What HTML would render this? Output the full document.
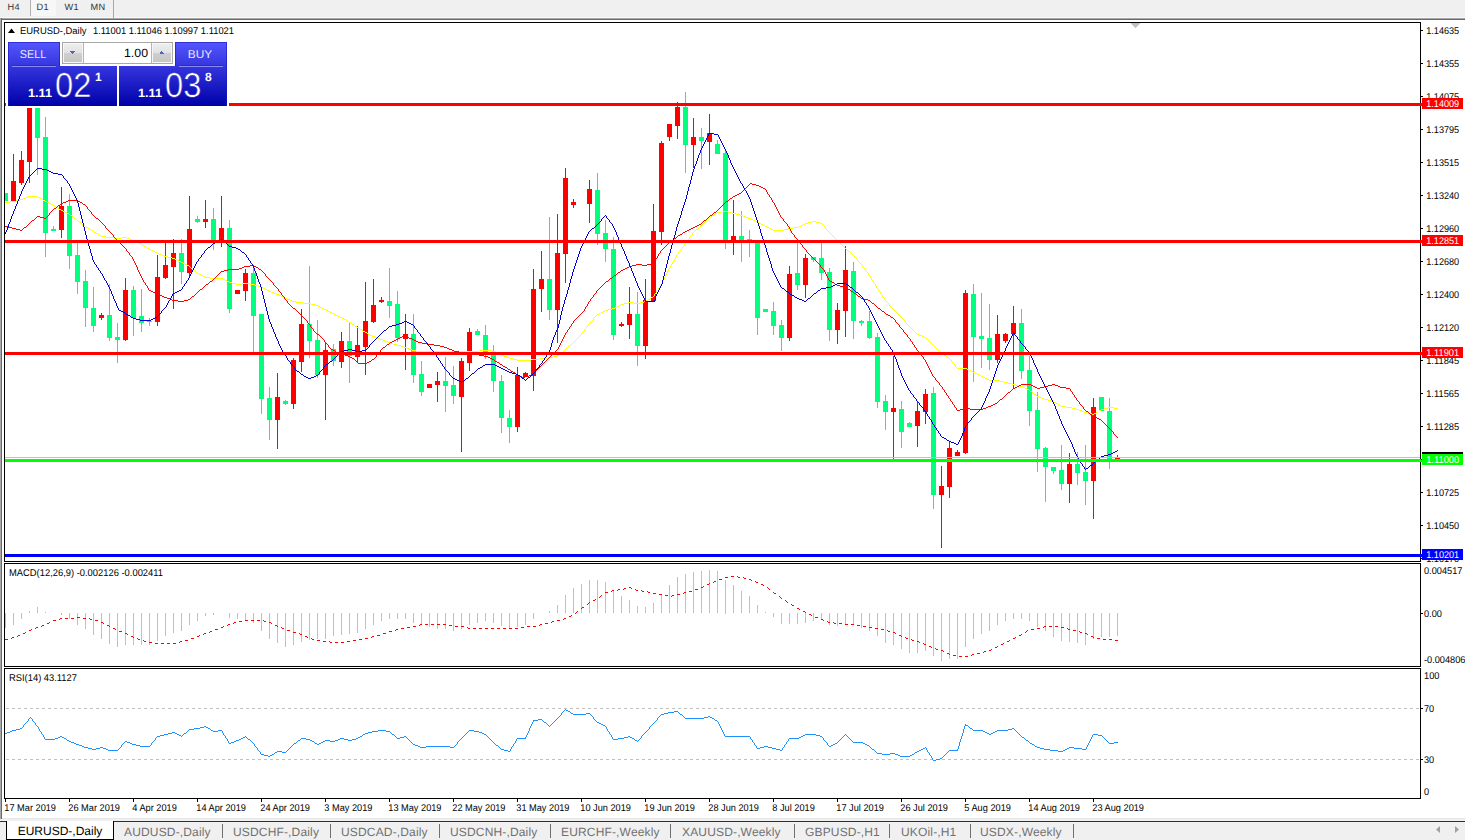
<!DOCTYPE html>
<html lang="en"><head><meta charset="utf-8"><title>EURUSD-,Daily</title>
<style>
html,body{margin:0;padding:0;background:#fff}
body{text-rendering:geometricPrecision;width:1465px;height:840px;overflow:hidden;position:relative;font-family:"Liberation Sans",sans-serif;color:#000}
#chart{position:absolute;left:0;top:0}
#chart text{font-family:"Liberation Sans",sans-serif;font-size:9.8px;fill:#000;text-rendering:geometricPrecision}
#topbar{position:absolute;left:0;top:0;width:1465px;height:17px;background:#f0f0f0;box-shadow:0 1px 0 #f8f8f8,0 2px 0 #a8a8a8,0 3px 0 #6a6a6a;font-size:9.2px;letter-spacing:.25px;color:#333;text-rendering:geometricPrecision}
#topbar span{position:absolute;top:0;height:17px;line-height:11px}
#topbar .sel{left:30px;width:25px;height:16px;background:#f7f7f7;border-left:1px solid #b0b0b0}
#topbar .sep{left:113px;width:1px;height:18px;background:#a8a8a8}
#leftedge{position:absolute;left:0;top:18px;width:1px;height:801px;background:#a8a8a8;border-right:1px solid #6a6a6a}
#leftedge+i{position:absolute;left:2px;top:818px;width:1463px;height:1px;background:#e6e6e6}
#tabs{position:absolute;left:0;top:819px;width:1465px;height:21px;background:#f0f0f0;font-size:12px;letter-spacing:.16px;color:#707070}
#tabs u{position:absolute;left:0;top:2px;width:1465px;height:1px;background:#303030}
#tabs span{position:absolute;top:3.6px;line-height:19px;white-space:nowrap}
#tabs .act{left:6px;top:2px;width:106px;height:18px;background:#fff;border:1px solid #000;border-top:none;color:#000;text-align:center;line-height:21.6px;letter-spacing:0}
#tabs i{position:absolute;top:5px;width:1px;height:14px;background:#707070}
</style></head><body>

<svg id="chart" width="1465" height="840" viewBox="0 0 1465 840">
<g shape-rendering="crispEdges">
<rect x="4" y="22" width="1417" height="1" fill="#000"/>
<rect x="4" y="561" width="1417" height="1" fill="#000"/>
<rect x="4" y="22" width="1" height="540" fill="#000"/>
<rect x="1420" y="22" width="1" height="540" fill="#000"/>
<rect x="4" y="563" width="1417" height="1" fill="#000"/>
<rect x="4" y="666" width="1417" height="1" fill="#000"/>
<rect x="4" y="563" width="1" height="104" fill="#000"/>
<rect x="1420" y="563" width="1" height="104" fill="#000"/>
<rect x="4" y="668" width="1417" height="1" fill="#000"/>
<rect x="4" y="798" width="1417" height="1" fill="#000"/>
<rect x="4" y="668" width="1" height="131" fill="#000"/>
<rect x="1420" y="668" width="1" height="131" fill="#000"/>
<g id="candles">
<rect x="5" y="193" width="1" height="8" fill="#00ff7f"/>
<rect x="5" y="193" width="3" height="8" fill="#00ff7f"/>
<rect x="13" y="154" width="1" height="47" fill="#ff0000"/>
<rect x="11" y="181" width="5" height="20" fill="#ff0000"/>
<rect x="21" y="151" width="1" height="34" fill="#ff0000"/>
<rect x="19" y="160" width="5" height="23" fill="#ff0000"/>
<rect x="29" y="100" width="1" height="83" fill="#ff0000"/>
<rect x="27" y="100" width="5" height="62" fill="#ff0000"/>
<rect x="37" y="100" width="1" height="75" fill="#00ff7f"/>
<rect x="35" y="100" width="5" height="38" fill="#00ff7f"/>
<rect x="45" y="117" width="1" height="140" fill="#00ff7f"/>
<rect x="43" y="137" width="5" height="96" fill="#00ff7f"/>
<rect x="53" y="226" width="1" height="5" fill="#00ff7f"/>
<rect x="51" y="229" width="5" height="2" fill="#00ff7f"/>
<rect x="61" y="187" width="1" height="51" fill="#ff0000"/>
<rect x="59" y="206" width="5" height="24" fill="#ff0000"/>
<rect x="69" y="194" width="1" height="75" fill="#00ff7f"/>
<rect x="67" y="206" width="5" height="50" fill="#00ff7f"/>
<rect x="77" y="243" width="1" height="51" fill="#00ff7f"/>
<rect x="75" y="255" width="5" height="27" fill="#00ff7f"/>
<rect x="85" y="270" width="1" height="57" fill="#00ff7f"/>
<rect x="83" y="281" width="5" height="27" fill="#00ff7f"/>
<rect x="93" y="287" width="1" height="45" fill="#00ff7f"/>
<rect x="91" y="308" width="5" height="18" fill="#00ff7f"/>
<rect x="101" y="313" width="1" height="7" fill="#ff0000"/>
<rect x="99" y="315" width="5" height="3" fill="#ff0000"/>
<rect x="109" y="284" width="1" height="57" fill="#00ff7f"/>
<rect x="107" y="315" width="5" height="23" fill="#00ff7f"/>
<rect x="117" y="323" width="1" height="40" fill="#00ff7f"/>
<rect x="115" y="337" width="5" height="3" fill="#00ff7f"/>
<rect x="125" y="278" width="1" height="63" fill="#ff0000"/>
<rect x="123" y="290" width="5" height="50" fill="#ff0000"/>
<rect x="133" y="286" width="1" height="50" fill="#00ff7f"/>
<rect x="131" y="290" width="5" height="28" fill="#00ff7f"/>
<rect x="141" y="289" width="1" height="43" fill="#00ff7f"/>
<rect x="139" y="316" width="5" height="7" fill="#00ff7f"/>
<rect x="149" y="318" width="1" height="8" fill="#00ff7f"/>
<rect x="147" y="321" width="5" height="1" fill="#00ff7f"/>
<rect x="157" y="255" width="1" height="71" fill="#ff0000"/>
<rect x="155" y="277" width="5" height="45" fill="#ff0000"/>
<rect x="165" y="242" width="1" height="37" fill="#ff0000"/>
<rect x="163" y="265" width="5" height="13" fill="#ff0000"/>
<rect x="173" y="239" width="1" height="70" fill="#ff0000"/>
<rect x="171" y="253" width="5" height="14" fill="#ff0000"/>
<rect x="181" y="239" width="1" height="45" fill="#00ff7f"/>
<rect x="179" y="253" width="5" height="19" fill="#00ff7f"/>
<rect x="189" y="196" width="1" height="80" fill="#ff0000"/>
<rect x="187" y="229" width="5" height="44" fill="#ff0000"/>
<rect x="197" y="216" width="1" height="7" fill="#00ff7f"/>
<rect x="195" y="219" width="5" height="3" fill="#00ff7f"/>
<rect x="205" y="200" width="1" height="28" fill="#ff0000"/>
<rect x="203" y="219" width="5" height="3" fill="#ff0000"/>
<rect x="213" y="208" width="1" height="42" fill="#00ff7f"/>
<rect x="211" y="219" width="5" height="22" fill="#00ff7f"/>
<rect x="221" y="196" width="1" height="51" fill="#ff0000"/>
<rect x="219" y="228" width="5" height="13" fill="#ff0000"/>
<rect x="229" y="220" width="1" height="93" fill="#00ff7f"/>
<rect x="227" y="228" width="5" height="81" fill="#00ff7f"/>
<rect x="237" y="290" width="1" height="4" fill="#ff0000"/>
<rect x="235" y="290" width="5" height="4" fill="#ff0000"/>
<rect x="245" y="269" width="1" height="32" fill="#ff0000"/>
<rect x="243" y="273" width="5" height="18" fill="#ff0000"/>
<rect x="253" y="266" width="1" height="86" fill="#00ff7f"/>
<rect x="251" y="273" width="5" height="43" fill="#00ff7f"/>
<rect x="261" y="314" width="1" height="100" fill="#00ff7f"/>
<rect x="259" y="314" width="5" height="85" fill="#00ff7f"/>
<rect x="269" y="387" width="1" height="53" fill="#00ff7f"/>
<rect x="267" y="398" width="5" height="22" fill="#00ff7f"/>
<rect x="277" y="373" width="1" height="76" fill="#ff0000"/>
<rect x="275" y="397" width="5" height="23" fill="#ff0000"/>
<rect x="285" y="400" width="1" height="5" fill="#00ff7f"/>
<rect x="283" y="401" width="5" height="3" fill="#00ff7f"/>
<rect x="293" y="358" width="1" height="51" fill="#ff0000"/>
<rect x="291" y="360" width="5" height="44" fill="#ff0000"/>
<rect x="301" y="309" width="1" height="63" fill="#ff0000"/>
<rect x="299" y="324" width="5" height="38" fill="#ff0000"/>
<rect x="309" y="266" width="1" height="92" fill="#00ff7f"/>
<rect x="307" y="324" width="5" height="17" fill="#00ff7f"/>
<rect x="317" y="320" width="1" height="58" fill="#00ff7f"/>
<rect x="315" y="340" width="5" height="35" fill="#00ff7f"/>
<rect x="325" y="342" width="1" height="78" fill="#ff0000"/>
<rect x="323" y="350" width="5" height="25" fill="#ff0000"/>
<rect x="333" y="344" width="1" height="22" fill="#00ff7f"/>
<rect x="331" y="349" width="5" height="12" fill="#00ff7f"/>
<rect x="341" y="332" width="1" height="36" fill="#ff0000"/>
<rect x="339" y="341" width="5" height="21" fill="#ff0000"/>
<rect x="349" y="322" width="1" height="61" fill="#00ff7f"/>
<rect x="347" y="341" width="5" height="15" fill="#00ff7f"/>
<rect x="357" y="326" width="1" height="37" fill="#ff0000"/>
<rect x="355" y="345" width="5" height="12" fill="#ff0000"/>
<rect x="365" y="282" width="1" height="93" fill="#ff0000"/>
<rect x="363" y="321" width="5" height="26" fill="#ff0000"/>
<rect x="373" y="279" width="1" height="44" fill="#ff0000"/>
<rect x="371" y="305" width="5" height="17" fill="#ff0000"/>
<rect x="381" y="297" width="1" height="6" fill="#ff0000"/>
<rect x="379" y="300" width="5" height="2" fill="#ff0000"/>
<rect x="389" y="268" width="1" height="50" fill="#00ff7f"/>
<rect x="387" y="301" width="5" height="5" fill="#00ff7f"/>
<rect x="397" y="291" width="1" height="51" fill="#00ff7f"/>
<rect x="395" y="304" width="5" height="34" fill="#00ff7f"/>
<rect x="405" y="314" width="1" height="56" fill="#ff0000"/>
<rect x="403" y="334" width="5" height="5" fill="#ff0000"/>
<rect x="413" y="314" width="1" height="69" fill="#00ff7f"/>
<rect x="411" y="334" width="5" height="41" fill="#00ff7f"/>
<rect x="421" y="361" width="1" height="35" fill="#00ff7f"/>
<rect x="419" y="374" width="5" height="18" fill="#00ff7f"/>
<rect x="429" y="384" width="1" height="4" fill="#ff0000"/>
<rect x="427" y="384" width="5" height="4" fill="#ff0000"/>
<rect x="437" y="372" width="1" height="30" fill="#ff0000"/>
<rect x="435" y="381" width="5" height="4" fill="#ff0000"/>
<rect x="445" y="357" width="1" height="55" fill="#00ff7f"/>
<rect x="443" y="381" width="5" height="5" fill="#00ff7f"/>
<rect x="453" y="366" width="1" height="38" fill="#00ff7f"/>
<rect x="451" y="385" width="5" height="11" fill="#00ff7f"/>
<rect x="461" y="358" width="1" height="94" fill="#ff0000"/>
<rect x="459" y="361" width="5" height="36" fill="#ff0000"/>
<rect x="469" y="328" width="1" height="43" fill="#ff0000"/>
<rect x="467" y="332" width="5" height="31" fill="#ff0000"/>
<rect x="477" y="329" width="1" height="6" fill="#00ff7f"/>
<rect x="475" y="331" width="5" height="4" fill="#00ff7f"/>
<rect x="485" y="325" width="1" height="34" fill="#00ff7f"/>
<rect x="483" y="335" width="5" height="17" fill="#00ff7f"/>
<rect x="493" y="345" width="1" height="47" fill="#00ff7f"/>
<rect x="491" y="351" width="5" height="30" fill="#00ff7f"/>
<rect x="501" y="375" width="1" height="58" fill="#00ff7f"/>
<rect x="499" y="381" width="5" height="37" fill="#00ff7f"/>
<rect x="509" y="410" width="1" height="33" fill="#00ff7f"/>
<rect x="507" y="418" width="5" height="9" fill="#00ff7f"/>
<rect x="517" y="367" width="1" height="65" fill="#ff0000"/>
<rect x="515" y="375" width="5" height="52" fill="#ff0000"/>
<rect x="525" y="372" width="1" height="5" fill="#ff0000"/>
<rect x="523" y="373" width="5" height="4" fill="#ff0000"/>
<rect x="533" y="269" width="1" height="122" fill="#ff0000"/>
<rect x="531" y="289" width="5" height="87" fill="#ff0000"/>
<rect x="541" y="251" width="1" height="61" fill="#ff0000"/>
<rect x="539" y="279" width="5" height="10" fill="#ff0000"/>
<rect x="549" y="217" width="1" height="103" fill="#00ff7f"/>
<rect x="547" y="279" width="5" height="31" fill="#00ff7f"/>
<rect x="557" y="214" width="1" height="129" fill="#ff0000"/>
<rect x="555" y="253" width="5" height="57" fill="#ff0000"/>
<rect x="565" y="168" width="1" height="115" fill="#ff0000"/>
<rect x="563" y="178" width="5" height="76" fill="#ff0000"/>
<rect x="573" y="199" width="1" height="9" fill="#ff0000"/>
<rect x="571" y="202" width="5" height="3" fill="#ff0000"/>
<rect x="589" y="180" width="1" height="43" fill="#ff0000"/>
<rect x="587" y="189" width="5" height="15" fill="#ff0000"/>
<rect x="597" y="173" width="1" height="72" fill="#00ff7f"/>
<rect x="595" y="190" width="5" height="44" fill="#00ff7f"/>
<rect x="605" y="220" width="1" height="42" fill="#00ff7f"/>
<rect x="603" y="233" width="5" height="16" fill="#00ff7f"/>
<rect x="613" y="237" width="1" height="103" fill="#00ff7f"/>
<rect x="611" y="249" width="5" height="86" fill="#00ff7f"/>
<rect x="621" y="322" width="1" height="5" fill="#ff0000"/>
<rect x="619" y="324" width="5" height="2" fill="#ff0000"/>
<rect x="629" y="287" width="1" height="52" fill="#ff0000"/>
<rect x="627" y="314" width="5" height="11" fill="#ff0000"/>
<rect x="637" y="292" width="1" height="74" fill="#00ff7f"/>
<rect x="635" y="314" width="5" height="32" fill="#00ff7f"/>
<rect x="645" y="279" width="1" height="80" fill="#ff0000"/>
<rect x="643" y="300" width="5" height="46" fill="#ff0000"/>
<rect x="653" y="204" width="1" height="97" fill="#ff0000"/>
<rect x="651" y="231" width="5" height="70" fill="#ff0000"/>
<rect x="661" y="141" width="1" height="104" fill="#ff0000"/>
<rect x="659" y="143" width="5" height="89" fill="#ff0000"/>
<rect x="669" y="124" width="1" height="17" fill="#ff0000"/>
<rect x="667" y="124" width="5" height="13" fill="#ff0000"/>
<rect x="677" y="102" width="1" height="37" fill="#ff0000"/>
<rect x="675" y="107" width="5" height="19" fill="#ff0000"/>
<rect x="685" y="92" width="1" height="81" fill="#00ff7f"/>
<rect x="683" y="107" width="5" height="38" fill="#00ff7f"/>
<rect x="693" y="118" width="1" height="50" fill="#ff0000"/>
<rect x="691" y="137" width="5" height="8" fill="#ff0000"/>
<rect x="701" y="128" width="1" height="41" fill="#00ff7f"/>
<rect x="699" y="137" width="5" height="4" fill="#00ff7f"/>
<rect x="709" y="114" width="1" height="51" fill="#ff0000"/>
<rect x="707" y="133" width="5" height="9" fill="#ff0000"/>
<rect x="717" y="140" width="1" height="14" fill="#00ff7f"/>
<rect x="715" y="144" width="5" height="10" fill="#00ff7f"/>
<rect x="725" y="149" width="1" height="100" fill="#00ff7f"/>
<rect x="723" y="153" width="5" height="88" fill="#00ff7f"/>
<rect x="733" y="200" width="1" height="55" fill="#ff0000"/>
<rect x="731" y="236" width="5" height="7" fill="#ff0000"/>
<rect x="741" y="211" width="1" height="51" fill="#00ff7f"/>
<rect x="739" y="236" width="5" height="7" fill="#00ff7f"/>
<rect x="749" y="230" width="1" height="27" fill="#00ff7f"/>
<rect x="747" y="239" width="5" height="2" fill="#00ff7f"/>
<rect x="757" y="240" width="1" height="95" fill="#00ff7f"/>
<rect x="755" y="240" width="5" height="78" fill="#00ff7f"/>
<rect x="765" y="309" width="1" height="3" fill="#00ff7f"/>
<rect x="763" y="309" width="5" height="3" fill="#00ff7f"/>
<rect x="773" y="302" width="1" height="33" fill="#00ff7f"/>
<rect x="771" y="311" width="5" height="15" fill="#00ff7f"/>
<rect x="781" y="320" width="1" height="31" fill="#00ff7f"/>
<rect x="779" y="325" width="5" height="13" fill="#00ff7f"/>
<rect x="789" y="266" width="1" height="75" fill="#ff0000"/>
<rect x="787" y="274" width="5" height="64" fill="#ff0000"/>
<rect x="797" y="243" width="1" height="47" fill="#00ff7f"/>
<rect x="795" y="273" width="5" height="12" fill="#00ff7f"/>
<rect x="805" y="254" width="1" height="44" fill="#ff0000"/>
<rect x="803" y="258" width="5" height="27" fill="#ff0000"/>
<rect x="813" y="257" width="1" height="5" fill="#00ff7f"/>
<rect x="811" y="257" width="5" height="3" fill="#00ff7f"/>
<rect x="821" y="243" width="1" height="37" fill="#00ff7f"/>
<rect x="819" y="258" width="5" height="15" fill="#00ff7f"/>
<rect x="829" y="268" width="1" height="73" fill="#00ff7f"/>
<rect x="827" y="272" width="5" height="58" fill="#00ff7f"/>
<rect x="837" y="303" width="1" height="41" fill="#ff0000"/>
<rect x="835" y="310" width="5" height="20" fill="#ff0000"/>
<rect x="845" y="246" width="1" height="91" fill="#ff0000"/>
<rect x="843" y="270" width="5" height="41" fill="#ff0000"/>
<rect x="853" y="262" width="1" height="77" fill="#00ff7f"/>
<rect x="851" y="271" width="5" height="50" fill="#00ff7f"/>
<rect x="861" y="320" width="1" height="6" fill="#00ff7f"/>
<rect x="859" y="321" width="5" height="2" fill="#00ff7f"/>
<rect x="869" y="311" width="1" height="28" fill="#00ff7f"/>
<rect x="867" y="321" width="5" height="17" fill="#00ff7f"/>
<rect x="877" y="333" width="1" height="75" fill="#00ff7f"/>
<rect x="875" y="337" width="5" height="65" fill="#00ff7f"/>
<rect x="885" y="395" width="1" height="35" fill="#00ff7f"/>
<rect x="883" y="401" width="5" height="11" fill="#00ff7f"/>
<rect x="893" y="356" width="1" height="103" fill="#ff0000"/>
<rect x="891" y="408" width="5" height="4" fill="#ff0000"/>
<rect x="901" y="401" width="1" height="47" fill="#00ff7f"/>
<rect x="899" y="409" width="5" height="23" fill="#00ff7f"/>
<rect x="909" y="422" width="1" height="5" fill="#00ff7f"/>
<rect x="907" y="423" width="5" height="4" fill="#00ff7f"/>
<rect x="917" y="401" width="1" height="46" fill="#ff0000"/>
<rect x="915" y="411" width="5" height="15" fill="#ff0000"/>
<rect x="925" y="389" width="1" height="35" fill="#ff0000"/>
<rect x="923" y="394" width="5" height="18" fill="#ff0000"/>
<rect x="933" y="387" width="1" height="122" fill="#00ff7f"/>
<rect x="931" y="393" width="5" height="102" fill="#00ff7f"/>
<rect x="941" y="466" width="1" height="82" fill="#ff0000"/>
<rect x="939" y="486" width="5" height="9" fill="#ff0000"/>
<rect x="949" y="441" width="1" height="57" fill="#ff0000"/>
<rect x="947" y="448" width="5" height="39" fill="#ff0000"/>
<rect x="957" y="450" width="1" height="6" fill="#ff0000"/>
<rect x="955" y="452" width="5" height="4" fill="#ff0000"/>
<rect x="965" y="290" width="1" height="164" fill="#ff0000"/>
<rect x="963" y="293" width="5" height="160" fill="#ff0000"/>
<rect x="973" y="284" width="1" height="98" fill="#00ff7f"/>
<rect x="971" y="294" width="5" height="43" fill="#00ff7f"/>
<rect x="981" y="293" width="1" height="75" fill="#00ff7f"/>
<rect x="979" y="336" width="5" height="3" fill="#00ff7f"/>
<rect x="989" y="304" width="1" height="66" fill="#00ff7f"/>
<rect x="987" y="338" width="5" height="22" fill="#00ff7f"/>
<rect x="997" y="315" width="1" height="48" fill="#ff0000"/>
<rect x="995" y="334" width="5" height="26" fill="#ff0000"/>
<rect x="1005" y="333" width="1" height="10" fill="#ff0000"/>
<rect x="1003" y="334" width="5" height="7" fill="#ff0000"/>
<rect x="1013" y="306" width="1" height="82" fill="#ff0000"/>
<rect x="1011" y="323" width="5" height="11" fill="#ff0000"/>
<rect x="1021" y="309" width="1" height="70" fill="#00ff7f"/>
<rect x="1019" y="323" width="5" height="48" fill="#00ff7f"/>
<rect x="1029" y="356" width="1" height="70" fill="#00ff7f"/>
<rect x="1027" y="370" width="5" height="41" fill="#00ff7f"/>
<rect x="1037" y="392" width="1" height="80" fill="#00ff7f"/>
<rect x="1035" y="410" width="5" height="39" fill="#00ff7f"/>
<rect x="1045" y="447" width="1" height="55" fill="#00ff7f"/>
<rect x="1043" y="448" width="5" height="19" fill="#00ff7f"/>
<rect x="1053" y="467" width="1" height="7" fill="#00ff7f"/>
<rect x="1051" y="467" width="5" height="4" fill="#00ff7f"/>
<rect x="1061" y="445" width="1" height="45" fill="#00ff7f"/>
<rect x="1059" y="470" width="5" height="14" fill="#00ff7f"/>
<rect x="1069" y="453" width="1" height="50" fill="#ff0000"/>
<rect x="1067" y="464" width="5" height="20" fill="#ff0000"/>
<rect x="1077" y="452" width="1" height="33" fill="#00ff7f"/>
<rect x="1075" y="464" width="5" height="9" fill="#00ff7f"/>
<rect x="1085" y="445" width="1" height="60" fill="#00ff7f"/>
<rect x="1083" y="472" width="5" height="9" fill="#00ff7f"/>
<rect x="1093" y="398" width="1" height="121" fill="#ff0000"/>
<rect x="1091" y="407" width="5" height="74" fill="#ff0000"/>
<rect x="1101" y="397" width="1" height="14" fill="#00ff7f"/>
<rect x="1099" y="397" width="5" height="14" fill="#00ff7f"/>
<rect x="1109" y="398" width="1" height="71" fill="#00ff7f"/>
<rect x="1107" y="411" width="5" height="48" fill="#00ff7f"/>
<rect x="1117" y="455" width="1" height="4" fill="#ff0000"/>
<rect x="1115" y="457" width="5" height="2" fill="#ff0000"/>
</g>
</g>
<path d="M5.5 202v1M6.5 202v1M7.5 202v1M8.5 202v1M9.5 202v1M10.5 201v1M11.5 201v1M12.5 201v1M13.5 201v1M14.5 201v1M15.5 201v1M16.5 200v1M17.5 200v1M18.5 200v1M19.5 200v1M20.5 199v1M21.5 199v1M22.5 199v1M23.5 198v1M24.5 198v1M25.5 198v1M26.5 197v1M27.5 197v1M28.5 196v1M29.5 196v1M30.5 196v1M31.5 196v1M32.5 196v1M33.5 196v1M34.5 196v1M35.5 196v1M36.5 196v1M37.5 196v1M38.5 197v1M39.5 197v1M40.5 198v1M41.5 198v1M42.5 199v1M43.5 200v1M44.5 200v1M45.5 201v1M46.5 201v1M47.5 202v1M48.5 202v1M49.5 203v1M50.5 203v1M51.5 204v1M52.5 204v1M53.5 205v1M54.5 206v1M55.5 206v1M56.5 207v1M57.5 207v1M58.5 208v1M59.5 209v1M60.5 209v1M61.5 210v1M62.5 210v1M63.5 211v1M64.5 211v1M65.5 212v1M66.5 212v1M67.5 213v1M68.5 213v1M69.5 214v1M70.5 215v1M71.5 215v1M72.5 216v1M73.5 217v1M74.5 218v1M75.5 218v1M76.5 219v1M77.5 220v1M78.5 221v1M79.5 221v1M80.5 222v1M81.5 223v1M82.5 224v1M83.5 224v1M84.5 225v1M85.5 226v1M86.5 227v1M87.5 227v1M88.5 228v1M89.5 228v1M90.5 229v1M91.5 230v1M92.5 230v1M93.5 231v1M94.5 232v1M95.5 232v1M96.5 233v1M97.5 233v1M98.5 234v1M99.5 235v1M100.5 235v1M101.5 236v1M102.5 236v1M103.5 236v1M104.5 236v1M105.5 236v1M106.5 237v1M107.5 237v1M108.5 237v1M109.5 237v1M110.5 237v1M111.5 237v1M112.5 237v1M113.5 237v1M114.5 238v1M115.5 238v1M116.5 238v1M117.5 238v1M118.5 238v1M119.5 238v1M120.5 238v1M121.5 238v1M122.5 237v1M123.5 237v1M124.5 237v1M125.5 237v1M126.5 237v1M127.5 238v1M128.5 238v1M129.5 238v1M130.5 239v1M131.5 239v1M132.5 240v1M133.5 240v1M134.5 240v1M135.5 241v1M136.5 241v1M137.5 242v1M138.5 242v1M139.5 243v1M140.5 243v1M141.5 244v1M142.5 245v1M143.5 245v1M144.5 246v1M145.5 246v1M146.5 247v1M147.5 248v1M148.5 248v1M149.5 249v1M150.5 249v1M151.5 250v1M152.5 250v1M153.5 251v1M154.5 251v1M155.5 252v1M156.5 252v1M157.5 253v1M158.5 253v1M159.5 254v1M160.5 254v1M161.5 254v1M162.5 255v1M163.5 255v1M164.5 256v1M165.5 256v1M166.5 256v1M167.5 256v1M168.5 257v1M169.5 257v1M170.5 257v1M171.5 257v1M172.5 258v1M173.5 258v1M174.5 258v1M175.5 259v1M176.5 259v1M177.5 260v1M178.5 260v1M179.5 261v1M180.5 261v1M181.5 262v1M182.5 262v1M183.5 263v1M184.5 263v1M185.5 264v1M186.5 264v1M187.5 265v1M188.5 265v1M189.5 266v1M190.5 267v1M191.5 268v1M192.5 269v1M193.5 269v1M194.5 270v1M195.5 271v1M196.5 272v1M197.5 273v1M198.5 273v1M199.5 274v1M200.5 274v1M201.5 275v1M202.5 275v1M203.5 276v1M204.5 276v1M205.5 277v1M206.5 277v1M207.5 277v1M208.5 277v1M209.5 277v1M210.5 278v1M211.5 278v1M212.5 278v1M213.5 278v1M214.5 278v1M215.5 278v1M216.5 278v1M217.5 278v1M218.5 278v1M219.5 278v1M220.5 278v1M221.5 278v1M222.5 278v1M223.5 279v1M224.5 279v1M225.5 280v1M226.5 280v1M227.5 281v1M228.5 281v1M229.5 282v1M230.5 282v1M231.5 282v1M232.5 283v1M233.5 283v1M234.5 283v1M235.5 283v1M236.5 284v1M237.5 284v1M238.5 284v1M239.5 284v1M240.5 284v1M241.5 284v1M242.5 283v1M243.5 283v1M244.5 283v1M245.5 283v1M246.5 283v1M247.5 283v1M248.5 283v1M249.5 283v1M250.5 284v1M251.5 284v1M252.5 284v1M253.5 284v1M254.5 284v1M255.5 285v1M256.5 285v1M257.5 285v1M258.5 286v1M259.5 286v1M260.5 287v1M261.5 287v1M262.5 287v1M263.5 288v1M264.5 288v1M265.5 289v1M266.5 289v1M267.5 290v1M268.5 290v1M269.5 291v1M270.5 291v1M271.5 292v1M272.5 292v1M273.5 292v1M274.5 293v1M275.5 293v1M276.5 294v1M277.5 294v1M278.5 294v1M279.5 295v1M280.5 295v1M281.5 296v1M282.5 296v1M283.5 297v1M284.5 297v1M285.5 298v1M286.5 298v1M287.5 299v1M288.5 299v1M289.5 299v1M290.5 300v1M291.5 300v1M292.5 301v1M293.5 301v1M294.5 301v1M295.5 301v1M296.5 302v1M297.5 302v1M298.5 302v1M299.5 302v1M300.5 302v1M301.5 302v1M302.5 302v1M303.5 303v1M304.5 303v1M305.5 303v1M306.5 303v1M307.5 303v1M308.5 303v1M309.5 303v1M310.5 303v1M311.5 304v1M312.5 304v1M313.5 304v1M314.5 304v1M315.5 304v1M316.5 305v1M317.5 305v1M318.5 306v1M319.5 306v1M320.5 307v1M321.5 307v1M322.5 308v1M323.5 308v1M324.5 309v1M325.5 309v1M326.5 310v1M327.5 310v1M328.5 311v1M329.5 311v1M330.5 312v1M331.5 312v1M332.5 313v1M333.5 313v1M334.5 314v1M335.5 314v1M336.5 315v1M337.5 315v1M338.5 316v1M339.5 316v1M340.5 317v1M341.5 317v1M342.5 318v1M343.5 318v1M344.5 319v1M345.5 319v1M346.5 320v1M347.5 321v1M348.5 321v1M349.5 322v1M350.5 322v1M351.5 323v1M352.5 324v1M353.5 324v1M354.5 325v1M355.5 326v1M356.5 326v1M357.5 327v1M358.5 327v1M359.5 328v1M360.5 329v1M361.5 329v1M362.5 330v1M363.5 331v1M364.5 331v1M365.5 332v1M366.5 332v1M367.5 333v1M368.5 334v1M369.5 334v1M370.5 335v1M371.5 335v1M372.5 336v1M373.5 336v1M374.5 336v1M375.5 337v1M376.5 337v1M377.5 338v1M378.5 338v1M379.5 338v1M380.5 339v1M381.5 339v1M382.5 339v1M383.5 340v1M384.5 340v1M385.5 341v1M386.5 341v1M387.5 341v1M388.5 342v1M389.5 342v1M390.5 342v1M391.5 343v1M392.5 343v1M393.5 344v1M394.5 344v1M395.5 344v1M396.5 344v1M397.5 345v1M398.5 345v1M399.5 345v1M400.5 345v1M401.5 346v1M402.5 346v1M403.5 346v1M404.5 347v1M405.5 347v1M406.5 347v1M407.5 348v1M408.5 348v1M409.5 349v1M410.5 349v1M411.5 349v1M412.5 350v1M413.5 350v1M414.5 350v1M415.5 350v1M416.5 351v1M417.5 351v1M418.5 351v1M419.5 351v1M420.5 351v1M421.5 351v1M422.5 351v1M423.5 351v1M424.5 351v1M425.5 351v1M426.5 351v1M427.5 351v1M428.5 351v1M429.5 351v1M430.5 351v1M431.5 351v1M432.5 351v1M433.5 351v1M434.5 351v1M435.5 351v1M436.5 351v1M437.5 351v1M438.5 351v1M439.5 351v1M440.5 351v1M441.5 351v1M442.5 351v1M443.5 351v1M444.5 351v1M445.5 351v1M446.5 351v1M447.5 351v1M448.5 351v1M449.5 351v1M450.5 351v1M451.5 351v1M452.5 351v1M453.5 351v1M454.5 351v1M455.5 351v1M456.5 351v1M457.5 351v1M458.5 351v1M459.5 351v1M460.5 351v1M461.5 351v1M462.5 351v1M463.5 351v1M464.5 351v1M465.5 351v1M466.5 351v1M467.5 351v1M468.5 351v1M469.5 351v1M470.5 351v1M471.5 351v1M472.5 351v1M473.5 351v1M474.5 351v1M475.5 351v1M476.5 351v1M477.5 351v1M478.5 351v1M479.5 350v1M480.5 350v1M481.5 350v1M482.5 350v1M483.5 350v1M484.5 350v1M485.5 350v1M486.5 350v1M487.5 350v1M488.5 350v1M489.5 350v1M490.5 350v1M491.5 351v1M492.5 351v1M493.5 351v1M494.5 351v1M495.5 351v1M496.5 352v1M497.5 352v1M498.5 353v1M499.5 353v1M500.5 354v1M501.5 354v1M502.5 355v1M503.5 355v1M504.5 356v1M505.5 356v1M506.5 356v1M507.5 357v1M508.5 357v1M509.5 358v1M510.5 358v1M511.5 358v1M512.5 358v1M513.5 359v1M514.5 359v1M515.5 359v1M516.5 359v1M517.5 360v1M518.5 360v1M519.5 360v1M520.5 360v1M521.5 360v1M522.5 360v1M523.5 360v1M524.5 360v1M525.5 360v1M526.5 360v1M527.5 360v1M528.5 360v1M529.5 360v1M530.5 360v1M531.5 359v1M532.5 359v1M533.5 359v1M534.5 359v1M535.5 359v1M536.5 359v1M537.5 359v1M538.5 359v1M539.5 358v1M540.5 358v1M541.5 358v1M542.5 358v1M543.5 358v1M544.5 358v1M545.5 358v1M546.5 358v1M547.5 357v1M548.5 357v1M549.5 357v1M550.5 357v1M551.5 357v1M552.5 357v1M553.5 356v1M554.5 356v1M555.5 356v1M556.5 356v1M557.5 355v1M558.5 355v1M559.5 354v1M560.5 353v1M561.5 352v1M562.5 352v1M563.5 351v1M564.5 350v1M565.5 349v1M566.5 348v1M567.5 347v1M568.5 346v1M569.5 345v1M570.5 345v1M571.5 344v1M572.5 343v1M573.5 342v1M574.5 341v1M575.5 340v1M576.5 339v1M577.5 338v1M578.5 337v1M579.5 336v1M580.5 335v1M581.5 333v2M582.5 332v1M583.5 331v1M584.5 329v2M585.5 328v1M586.5 327v1M587.5 325v2M588.5 324v1M589.5 323v1M590.5 322v1M591.5 321v1M592.5 320v1M593.5 318v2M594.5 317v1M595.5 316v1M596.5 315v1M597.5 314v1M598.5 314v1M599.5 313v1M600.5 313v1M601.5 312v1M602.5 312v1M603.5 311v1M604.5 311v1M605.5 310v1M606.5 310v1M607.5 310v1M608.5 309v1M609.5 309v1M610.5 309v1M611.5 309v1M612.5 308v1M613.5 308v1M614.5 308v1M615.5 307v1M616.5 307v1M617.5 306v1M618.5 306v1M619.5 305v1M620.5 305v1M621.5 304v1M622.5 304v1M623.5 304v1M624.5 303v1M625.5 303v1M626.5 303v1M627.5 303v1M628.5 302v1M629.5 302v1M630.5 302v1M631.5 302v1M632.5 302v1M633.5 302v1M634.5 303v1M635.5 303v1M636.5 303v1M637.5 303v1M638.5 303v1M639.5 303v1M640.5 302v1M641.5 302v1M642.5 302v1M643.5 302v1M644.5 301v1M645.5 301v1M646.5 300v1M647.5 300v1M648.5 299v1M649.5 299v1M650.5 298v1M651.5 297v1M652.5 297v1M653.5 296v1M654.5 294v2M655.5 293v1M656.5 291v2M657.5 290v1M658.5 288v2M659.5 287v1M660.5 285v2M661.5 283v2M662.5 281v2M663.5 279v2M664.5 277v2M665.5 275v2M666.5 273v2M667.5 271v2M668.5 269v2M669.5 268v1M670.5 266v2M671.5 264v2M672.5 262v2M673.5 261v1M674.5 259v2M675.5 257v2M676.5 255v2M677.5 254v1M678.5 252v2M679.5 251v1M680.5 250v1M681.5 248v2M682.5 247v1M683.5 246v1M684.5 244v2M685.5 243v1M686.5 241v2M687.5 240v1M688.5 239v1M689.5 237v2M690.5 236v1M691.5 235v1M692.5 233v2M693.5 232v1M694.5 231v1M695.5 230v1M696.5 229v1M697.5 229v1M698.5 228v1M699.5 227v1M700.5 226v1M701.5 225v1M702.5 224v1M703.5 223v1M704.5 222v1M705.5 221v1M706.5 220v1M707.5 219v1M708.5 218v1M709.5 217v1M710.5 216v1M711.5 216v1M712.5 215v1M713.5 215v1M714.5 214v1M715.5 213v1M716.5 213v1M717.5 212v1M718.5 212v1M719.5 212v1M720.5 212v1M721.5 212v1M722.5 211v1M723.5 211v1M724.5 211v1M725.5 211v1M726.5 211v1M727.5 211v1M728.5 212v1M729.5 212v1M730.5 212v1M731.5 212v1M732.5 213v1M733.5 213v1M734.5 213v1M735.5 213v1M736.5 214v1M737.5 214v1M738.5 214v1M739.5 214v1M740.5 215v1M741.5 215v1M742.5 215v1M743.5 216v1M744.5 216v1M745.5 216v1M746.5 217v1M747.5 217v1M748.5 218v1M749.5 218v1M750.5 218v1M751.5 219v1M752.5 219v1M753.5 220v1M754.5 220v1M755.5 221v1M756.5 221v1M757.5 222v1M758.5 222v1M759.5 223v1M760.5 223v1M761.5 224v1M762.5 224v1M763.5 225v1M764.5 225v1M765.5 226v1M766.5 226v1M767.5 227v1M768.5 227v1M769.5 228v1M770.5 228v1M771.5 229v1M772.5 229v1M773.5 230v1M774.5 230v1M775.5 230v1M776.5 230v1M777.5 230v1M778.5 230v1M779.5 230v1M780.5 230v1M781.5 230v1M782.5 230v1M783.5 230v1M784.5 229v1M785.5 229v1M786.5 229v1M787.5 229v1M788.5 228v1M789.5 228v1M790.5 228v1M791.5 228v1M792.5 228v1M793.5 228v1M794.5 227v1M795.5 227v1M796.5 227v1M797.5 227v1M798.5 227v1M799.5 226v1M800.5 226v1M801.5 225v1M802.5 225v1M803.5 224v1M804.5 224v1M805.5 223v1M806.5 223v1M807.5 223v1M808.5 222v1M809.5 222v1M810.5 222v1M811.5 222v1M812.5 221v1M813.5 221v1M814.5 221v1M815.5 221v1M816.5 222v1M817.5 222v1M818.5 222v1M819.5 222v1M820.5 223v1M821.5 223v1M822.5 224v1M823.5 225v1M824.5 226v1M825.5 227v2M826.5 229v1M827.5 230v1M828.5 231v1M829.5 232v1M830.5 233v1M831.5 234v1M832.5 235v1M833.5 236v1M834.5 237v1M835.5 238v1M836.5 239v1M837.5 240v1M838.5 241v1M839.5 242v1M840.5 243v1M841.5 244v1M842.5 245v1M843.5 246v1M844.5 247v1M845.5 248v1M846.5 249v1M847.5 250v1M848.5 251v1M849.5 251v1M850.5 252v1M851.5 253v1M852.5 254v1M853.5 255v1M854.5 256v1M855.5 257v1M856.5 258v1M857.5 259v2M858.5 261v1M859.5 262v1M860.5 263v1M861.5 264v1M862.5 265v2M863.5 267v1M864.5 268v1M865.5 269v2M866.5 271v1M867.5 272v1M868.5 273v2M869.5 275v1M870.5 276v2M871.5 278v2M872.5 280v1M873.5 281v2M874.5 283v1M875.5 284v2M876.5 286v2M877.5 288v1M878.5 289v2M879.5 291v1M880.5 292v2M881.5 294v1M882.5 295v2M883.5 297v1M884.5 298v2M885.5 300v1M886.5 301v1M887.5 302v1M888.5 303v1M889.5 304v2M890.5 306v1M891.5 307v1M892.5 308v1M893.5 309v1M894.5 310v1M895.5 311v1M896.5 312v1M897.5 313v1M898.5 314v1M899.5 315v1M900.5 316v1M901.5 317v1M902.5 318v1M903.5 319v1M904.5 320v1M905.5 321v2M906.5 323v1M907.5 324v1M908.5 325v1M909.5 326v1M910.5 327v1M911.5 328v1M912.5 329v1M913.5 330v1M914.5 331v1M915.5 332v1M916.5 333v1M917.5 334v1M918.5 334v1M919.5 335v1M920.5 335v1M921.5 335v1M922.5 336v1M923.5 336v1M924.5 337v1M925.5 337v1M926.5 338v1M927.5 339v1M928.5 340v1M929.5 341v1M930.5 342v1M931.5 343v1M932.5 344v1M933.5 345v1M934.5 346v1M935.5 347v1M936.5 348v1M937.5 349v1M938.5 350v1M939.5 351v1M940.5 352v1M941.5 353v1M942.5 354v1M943.5 354v1M944.5 355v1M945.5 355v1M946.5 356v1M947.5 357v1M948.5 357v1M949.5 358v1M950.5 359v1M951.5 360v2M952.5 362v1M953.5 363v1M954.5 364v1M955.5 365v2M956.5 367v1M957.5 368v1M958.5 368v1M959.5 368v1M960.5 368v1M961.5 368v1M962.5 368v1M963.5 368v1M964.5 368v1M965.5 368v1M966.5 368v1M967.5 369v1M968.5 369v1M969.5 370v1M970.5 370v1M971.5 371v1M972.5 371v1M973.5 372v1M974.5 372v1M975.5 373v1M976.5 373v1M977.5 374v1M978.5 374v1M979.5 375v1M980.5 375v1M981.5 376v1M982.5 376v1M983.5 377v1M984.5 377v1M985.5 378v1M986.5 378v1M987.5 379v1M988.5 379v1M989.5 380v1M990.5 380v1M991.5 380v1M992.5 380v1M993.5 380v1M994.5 380v1M995.5 380v1M996.5 380v1M997.5 380v1M998.5 380v1M999.5 380v1M1000.5 381v1M1001.5 381v1M1002.5 381v1M1003.5 381v1M1004.5 382v1M1005.5 382v1M1006.5 382v1M1007.5 382v1M1008.5 383v1M1009.5 383v1M1010.5 383v1M1011.5 383v1M1012.5 384v1M1013.5 384v1M1014.5 384v1M1015.5 384v1M1016.5 385v1M1017.5 385v1M1018.5 385v1M1019.5 385v1M1020.5 386v1M1021.5 386v1M1022.5 386v1M1023.5 387v1M1024.5 387v1M1025.5 388v1M1026.5 388v1M1027.5 389v1M1028.5 389v1M1029.5 390v1M1030.5 391v1M1031.5 391v1M1032.5 392v1M1033.5 393v1M1034.5 394v1M1035.5 394v1M1036.5 395v1M1037.5 396v1M1038.5 396v1M1039.5 397v1M1040.5 397v1M1041.5 397v1M1042.5 398v1M1043.5 398v1M1044.5 399v1M1045.5 399v1M1046.5 399v1M1047.5 399v1M1048.5 400v1M1049.5 400v1M1050.5 400v1M1051.5 400v1M1052.5 401v1M1053.5 401v1M1054.5 402v1M1055.5 402v1M1056.5 403v1M1057.5 403v1M1058.5 404v1M1059.5 405v1M1060.5 405v1M1061.5 406v1M1062.5 406v1M1063.5 406v1M1064.5 406v1M1065.5 406v1M1066.5 407v1M1067.5 407v1M1068.5 407v1M1069.5 407v1M1070.5 407v1M1071.5 407v1M1072.5 408v1M1073.5 408v1M1074.5 408v1M1075.5 408v1M1076.5 409v1M1077.5 409v1M1078.5 409v1M1079.5 410v1M1080.5 410v1M1081.5 410v1M1082.5 411v1M1083.5 411v1M1084.5 412v1M1085.5 412v1M1086.5 412v1M1087.5 412v1M1088.5 413v1M1089.5 413v1M1090.5 413v1M1091.5 413v1M1092.5 414v1M1093.5 414v1M1094.5 413v1M1095.5 413v1M1096.5 412v1M1097.5 412v1M1098.5 411v1M1099.5 410v1M1100.5 410v1M1101.5 409v1M1102.5 409v1M1103.5 409v1M1104.5 408v1M1105.5 408v1M1106.5 408v1M1107.5 408v1M1108.5 407v1M1109.5 407v1M1110.5 407v1M1111.5 407v1M1112.5 407v1M1113.5 407v1M1114.5 408v1M1115.5 408v1M1116.5 408v1M1117.5 408v1" fill="none" stroke="#ffff00" stroke-width="1" shape-rendering="crispEdges"/>
<path d="M5.5 226v1M6.5 226v1M7.5 226v1M8.5 227v1M9.5 227v1M10.5 227v1M11.5 227v1M12.5 228v1M13.5 228v1M14.5 228v1M15.5 228v1M16.5 229v1M17.5 229v1M18.5 229v1M19.5 229v1M20.5 230v1M21.5 230v1M22.5 229v1M23.5 228v1M24.5 227v1M25.5 227v1M26.5 226v1M27.5 225v1M28.5 224v1M29.5 223v1M30.5 222v1M31.5 221v1M32.5 220v1M33.5 220v1M34.5 219v1M35.5 218v1M36.5 217v1M37.5 216v1M38.5 216v1M39.5 216v1M40.5 217v1M41.5 217v1M42.5 217v1M43.5 217v1M44.5 218v1M45.5 218v1M46.5 217v1M47.5 216v1M48.5 215v1M49.5 213v2M50.5 212v1M51.5 211v1M52.5 210v1M53.5 209v1M54.5 208v1M55.5 208v1M56.5 207v1M57.5 206v1M58.5 205v1M59.5 205v1M60.5 204v1M61.5 203v1M62.5 203v1M63.5 202v1M64.5 202v1M65.5 202v1M66.5 201v1M67.5 201v1M68.5 200v1M69.5 200v1M70.5 200v1M71.5 200v1M72.5 200v1M73.5 200v1M74.5 200v1M75.5 200v1M76.5 200v1M77.5 200v1M78.5 201v1M79.5 201v1M80.5 202v1M81.5 202v1M82.5 203v1M83.5 204v1M84.5 204v1M85.5 205v1M86.5 206v1M87.5 207v2M88.5 209v1M89.5 210v1M90.5 211v1M91.5 212v2M92.5 214v1M93.5 215v1M94.5 216v1M95.5 217v1M96.5 218v1M97.5 218v1M98.5 219v1M99.5 220v1M100.5 221v1M101.5 222v1M102.5 223v1M103.5 224v1M104.5 225v1M105.5 226v2M106.5 228v1M107.5 229v1M108.5 230v1M109.5 231v1M110.5 232v1M111.5 233v1M112.5 234v1M113.5 235v2M114.5 237v1M115.5 238v1M116.5 239v1M117.5 240v1M118.5 241v1M119.5 242v1M120.5 243v1M121.5 244v1M122.5 245v1M123.5 246v1M124.5 247v1M125.5 248v1M126.5 249v2M127.5 251v1M128.5 252v1M129.5 253v2M130.5 255v1M131.5 256v1M132.5 257v2M133.5 259v2M134.5 261v2M135.5 263v2M136.5 265v2M137.5 267v3M138.5 270v2M139.5 272v2M140.5 274v2M141.5 276v2M142.5 278v2M143.5 280v2M144.5 282v1M145.5 283v2M146.5 285v1M147.5 286v2M148.5 288v2M149.5 290v1M150.5 290v1M151.5 291v1M152.5 291v1M153.5 292v1M154.5 292v1M155.5 293v1M156.5 293v1M157.5 294v1M158.5 294v1M159.5 295v1M160.5 295v1M161.5 295v1M162.5 296v1M163.5 296v1M164.5 297v1M165.5 297v1M166.5 297v1M167.5 298v1M168.5 298v1M169.5 298v1M170.5 299v1M171.5 299v1M172.5 300v1M173.5 300v1M174.5 300v1M175.5 300v1M176.5 300v1M177.5 300v1M178.5 301v1M179.5 301v1M180.5 301v1M181.5 301v1M182.5 301v1M183.5 301v1M184.5 300v1M185.5 300v1M186.5 300v1M187.5 300v1M188.5 299v1M189.5 299v1M190.5 298v1M191.5 297v1M192.5 296v1M193.5 296v1M194.5 295v1M195.5 294v1M196.5 293v1M197.5 292v1M198.5 291v1M199.5 290v1M200.5 289v1M201.5 289v1M202.5 288v1M203.5 287v1M204.5 286v1M205.5 285v1M206.5 284v1M207.5 284v1M208.5 283v1M209.5 282v1M210.5 281v1M211.5 281v1M212.5 280v1M213.5 279v1M214.5 278v1M215.5 277v1M216.5 276v1M217.5 275v1M218.5 274v1M219.5 273v1M220.5 272v1M221.5 271v1M222.5 271v1M223.5 271v1M224.5 270v1M225.5 270v1M226.5 270v1M227.5 270v1M228.5 269v1M229.5 269v1M230.5 269v1M231.5 269v1M232.5 269v1M233.5 269v1M234.5 269v1M235.5 269v1M236.5 269v1M237.5 269v1M238.5 269v1M239.5 268v1M240.5 268v1M241.5 268v1M242.5 267v1M243.5 267v1M244.5 266v1M245.5 266v1M246.5 266v1M247.5 266v1M248.5 266v1M249.5 266v1M250.5 265v1M251.5 265v1M252.5 265v1M253.5 265v1M254.5 266v1M255.5 266v1M256.5 267v1M257.5 267v1M258.5 268v1M259.5 269v1M260.5 269v1M261.5 270v1M262.5 271v1M263.5 272v1M264.5 273v1M265.5 274v2M266.5 276v1M267.5 277v1M268.5 278v1M269.5 279v1M270.5 280v1M271.5 281v1M272.5 282v1M273.5 283v2M274.5 285v1M275.5 286v1M276.5 287v1M277.5 288v1M278.5 289v2M279.5 291v1M280.5 292v1M281.5 293v2M282.5 295v1M283.5 296v1M284.5 297v2M285.5 299v1M286.5 300v1M287.5 301v2M288.5 303v1M289.5 304v1M290.5 305v1M291.5 306v1M292.5 307v1M293.5 308v1M294.5 308v1M295.5 309v1M296.5 310v1M297.5 311v1M298.5 312v1M299.5 313v1M300.5 314v1M301.5 315v1M302.5 316v1M303.5 317v1M304.5 318v1M305.5 319v1M306.5 320v1M307.5 321v2M308.5 323v1M309.5 324v1M310.5 325v2M311.5 327v1M312.5 328v1M313.5 329v2M314.5 331v1M315.5 332v1M316.5 333v1M317.5 334v1M318.5 334v1M319.5 335v1M320.5 336v1M321.5 337v1M322.5 338v1M323.5 339v1M324.5 340v2M325.5 342v1M326.5 343v1M327.5 344v1M328.5 345v2M329.5 347v1M330.5 348v1M331.5 349v1M332.5 349v1M333.5 350v1M334.5 350v1M335.5 351v1M336.5 352v1M337.5 352v1M338.5 353v1M339.5 353v1M340.5 353v1M341.5 354v1M342.5 354v1M343.5 354v1M344.5 354v1M345.5 355v1M346.5 355v1M347.5 355v1M348.5 356v1M349.5 356v1M350.5 357v1M351.5 357v1M352.5 358v1M353.5 358v1M354.5 359v1M355.5 360v1M356.5 361v1M357.5 362v1M358.5 363v1M359.5 363v1M360.5 363v1M361.5 363v1M362.5 363v1M363.5 363v1M364.5 363v1M365.5 363v1M366.5 363v1M367.5 362v1M368.5 362v1M369.5 361v1M370.5 361v1M371.5 360v1M372.5 359v1M373.5 359v1M374.5 358v1M375.5 357v1M376.5 355v2M377.5 354v1M378.5 353v1M379.5 352v1M380.5 350v2M381.5 349v1M382.5 348v1M383.5 347v1M384.5 347v1M385.5 346v1M386.5 345v1M387.5 344v1M388.5 344v1M389.5 343v1M390.5 342v1M391.5 342v1M392.5 341v1M393.5 341v1M394.5 340v1M395.5 340v1M396.5 339v1M397.5 339v1M398.5 338v1M399.5 338v1M400.5 337v1M401.5 337v1M402.5 336v1M403.5 336v1M404.5 336v1M405.5 337v1M406.5 337v1M407.5 337v1M408.5 337v1M409.5 338v1M410.5 338v1M411.5 338v1M412.5 339v1M413.5 339v1M414.5 340v1M415.5 340v1M416.5 341v1M417.5 341v1M418.5 342v1M419.5 342v1M420.5 342v1M421.5 342v1M422.5 343v1M423.5 343v1M424.5 343v1M425.5 343v1M426.5 343v1M427.5 343v1M428.5 344v1M429.5 344v1M430.5 344v1M431.5 344v1M432.5 344v1M433.5 344v1M434.5 345v1M435.5 345v1M436.5 345v1M437.5 345v1M438.5 345v1M439.5 345v1M440.5 346v1M441.5 346v1M442.5 346v1M443.5 346v1M444.5 347v1M445.5 347v1M446.5 347v1M447.5 348v1M448.5 348v1M449.5 349v1M450.5 349v1M451.5 349v1M452.5 350v1M453.5 350v1M454.5 351v1M455.5 351v1M456.5 351v1M457.5 351v1M458.5 351v1M459.5 352v1M460.5 352v1M461.5 352v1M462.5 352v1M463.5 352v1M464.5 352v1M465.5 352v1M466.5 352v1M467.5 353v1M468.5 353v1M469.5 353v1M470.5 353v1M471.5 353v1M472.5 353v1M473.5 354v1M474.5 354v1M475.5 354v1M476.5 354v1M477.5 354v1M478.5 354v1M479.5 355v1M480.5 355v1M481.5 355v1M482.5 355v1M483.5 355v1M484.5 356v1M485.5 356v1M486.5 356v1M487.5 356v1M488.5 357v1M489.5 357v1M490.5 358v1M491.5 358v1M492.5 359v1M493.5 359v1M494.5 360v1M495.5 361v1M496.5 361v1M497.5 362v1M498.5 362v1M499.5 363v1M500.5 364v1M501.5 364v1M502.5 365v1M503.5 366v1M504.5 366v1M505.5 367v1M506.5 367v1M507.5 368v1M508.5 369v1M509.5 369v1M510.5 370v1M511.5 371v1M512.5 371v1M513.5 372v1M514.5 372v1M515.5 373v1M516.5 374v1M517.5 374v1M518.5 375v1M519.5 375v1M520.5 376v1M521.5 376v1M522.5 377v1M523.5 377v1M524.5 377v1M525.5 376v1M526.5 376v1M527.5 376v1M528.5 376v1M529.5 375v1M530.5 375v1M531.5 374v1M532.5 373v1M533.5 372v1M534.5 372v1M535.5 371v1M536.5 370v1M537.5 369v1M538.5 368v1M539.5 367v1M540.5 366v1M541.5 365v1M542.5 364v1M543.5 363v1M544.5 362v1M545.5 361v1M546.5 360v1M547.5 359v1M548.5 358v1M549.5 357v1M550.5 356v1M551.5 355v1M552.5 354v1M553.5 353v1M554.5 352v1M555.5 351v1M556.5 350v1M557.5 349v1M558.5 347v2M559.5 345v2M560.5 343v2M561.5 341v2M562.5 339v2M563.5 337v2M564.5 335v2M565.5 333v2M566.5 332v1M567.5 330v2M568.5 329v1M569.5 327v2M570.5 326v1M571.5 324v2M572.5 323v1M573.5 321v2M574.5 320v1M575.5 319v1M576.5 318v1M577.5 317v1M578.5 316v1M579.5 315v1M580.5 314v1M581.5 313v1M582.5 312v1M583.5 311v1M584.5 309v2M585.5 307v2M586.5 306v1M587.5 304v2M588.5 302v2M589.5 301v1M590.5 299v2M591.5 298v1M592.5 297v1M593.5 295v2M594.5 294v1M595.5 293v1M596.5 291v2M597.5 290v1M598.5 289v1M599.5 288v1M600.5 287v1M601.5 286v1M602.5 285v1M603.5 284v1M604.5 283v1M605.5 282v1M606.5 281v1M607.5 281v1M608.5 280v1M609.5 279v1M610.5 278v1M611.5 278v1M612.5 277v1M613.5 276v1M614.5 275v1M615.5 275v1M616.5 274v1M617.5 273v1M618.5 272v1M619.5 272v1M620.5 271v1M621.5 270v1M622.5 270v1M623.5 269v1M624.5 269v1M625.5 268v1M626.5 268v1M627.5 267v1M628.5 267v1M629.5 266v1M630.5 266v1M631.5 266v1M632.5 265v1M633.5 265v1M634.5 265v1M635.5 265v1M636.5 264v1M637.5 264v1M638.5 264v1M639.5 264v1M640.5 264v1M641.5 264v1M642.5 265v1M643.5 265v1M644.5 265v1M645.5 265v1M646.5 265v1M647.5 264v1M648.5 264v1M649.5 264v1M650.5 264v1M651.5 263v1M652.5 263v1M653.5 262v1M654.5 260v2M655.5 259v1M656.5 258v1M657.5 256v2M658.5 254v2M659.5 253v1M660.5 251v2M661.5 250v1M662.5 249v1M663.5 248v1M664.5 247v1M665.5 246v1M666.5 245v1M667.5 244v1M668.5 243v1M669.5 242v1M670.5 241v1M671.5 241v1M672.5 240v1M673.5 239v1M674.5 238v1M675.5 238v1M676.5 237v1M677.5 236v1M678.5 235v1M679.5 235v1M680.5 234v1M681.5 234v1M682.5 233v1M683.5 232v1M684.5 232v1M685.5 231v1M686.5 231v1M687.5 230v1M688.5 230v1M689.5 229v1M690.5 229v1M691.5 228v1M692.5 228v1M693.5 227v1M694.5 227v1M695.5 226v1M696.5 226v1M697.5 225v1M698.5 225v1M699.5 224v1M700.5 224v1M701.5 223v1M702.5 222v1M703.5 221v1M704.5 220v1M705.5 220v1M706.5 219v1M707.5 218v1M708.5 217v1M709.5 216v1M710.5 215v1M711.5 215v1M712.5 214v1M713.5 213v1M714.5 212v1M715.5 212v1M716.5 211v1M717.5 210v1M718.5 209v1M719.5 208v1M720.5 207v1M721.5 206v1M722.5 205v1M723.5 204v1M724.5 203v1M725.5 202v1M726.5 201v1M727.5 201v1M728.5 200v1M729.5 199v1M730.5 198v1M731.5 198v1M732.5 197v1M733.5 196v1M734.5 196v1M735.5 195v1M736.5 195v1M737.5 194v1M738.5 194v1M739.5 193v1M740.5 193v1M741.5 192v1M742.5 191v1M743.5 190v1M744.5 189v1M745.5 188v1M746.5 187v1M747.5 186v1M748.5 185v1M749.5 184v1M750.5 183v1M751.5 183v1M752.5 184v1M753.5 184v1M754.5 184v1M755.5 184v1M756.5 185v1M757.5 185v1M758.5 185v1M759.5 186v1M760.5 186v1M761.5 187v1M762.5 187v1M763.5 188v1M764.5 188v1M765.5 189v1M766.5 190v2M767.5 192v2M768.5 194v1M769.5 195v2M770.5 197v1M771.5 198v2M772.5 200v2M773.5 202v1M774.5 203v2M775.5 205v2M776.5 207v2M777.5 209v2M778.5 211v2M779.5 213v2M780.5 215v2M781.5 217v1M782.5 218v1M783.5 219v2M784.5 221v1M785.5 222v1M786.5 223v1M787.5 224v2M788.5 226v1M789.5 227v2M790.5 229v2M791.5 231v2M792.5 233v1M793.5 234v1M794.5 235v2M795.5 237v1M796.5 238v1M797.5 239v1M798.5 240v2M799.5 242v1M800.5 243v1M801.5 244v1M802.5 245v2M803.5 247v1M804.5 248v1M805.5 249v1M806.5 250v2M807.5 252v1M808.5 253v1M809.5 254v1M810.5 255v1M811.5 256v1M812.5 257v1M813.5 258v1M814.5 259v1M815.5 260v1M816.5 261v1M817.5 262v1M818.5 263v1M819.5 264v1M820.5 265v2M821.5 267v1M822.5 268v1M823.5 269v1M824.5 270v2M825.5 272v2M826.5 274v2M827.5 276v2M828.5 278v2M829.5 280v1M830.5 281v1M831.5 281v1M832.5 282v1M833.5 282v1M834.5 283v1M835.5 284v1M836.5 284v1M837.5 285v1M838.5 285v1M839.5 285v1M840.5 286v1M841.5 286v1M842.5 286v1M843.5 286v1M844.5 287v1M845.5 287v1M846.5 288v1M847.5 288v1M848.5 289v1M849.5 289v1M850.5 290v1M851.5 291v1M852.5 291v1M853.5 292v1M854.5 293v1M855.5 293v1M856.5 294v1M857.5 295v1M858.5 296v1M859.5 296v1M860.5 297v1M861.5 298v1M862.5 298v1M863.5 298v1M864.5 299v1M865.5 299v1M866.5 299v1M867.5 299v1M868.5 300v1M869.5 300v1M870.5 301v1M871.5 302v1M872.5 303v1M873.5 303v1M874.5 304v1M875.5 305v1M876.5 306v1M877.5 307v1M878.5 308v1M879.5 308v1M880.5 309v1M881.5 310v1M882.5 311v1M883.5 311v1M884.5 312v1M885.5 313v1M886.5 314v1M887.5 314v1M888.5 315v1M889.5 315v1M890.5 316v1M891.5 317v1M892.5 317v1M893.5 318v1M894.5 319v1M895.5 320v2M896.5 322v1M897.5 323v1M898.5 324v1M899.5 325v2M900.5 327v1M901.5 328v1M902.5 329v1M903.5 330v2M904.5 332v1M905.5 333v1M906.5 334v1M907.5 335v2M908.5 337v1M909.5 338v1M910.5 339v2M911.5 341v1M912.5 342v2M913.5 344v1M914.5 345v2M915.5 347v1M916.5 348v2M917.5 350v1M918.5 351v1M919.5 352v2M920.5 354v1M921.5 355v1M922.5 356v1M923.5 357v2M924.5 359v1M925.5 360v2M926.5 362v2M927.5 364v2M928.5 366v2M929.5 368v2M930.5 370v2M931.5 372v2M932.5 374v2M933.5 376v1M934.5 377v1M935.5 378v2M936.5 380v1M937.5 381v1M938.5 382v1M939.5 383v2M940.5 385v1M941.5 386v1M942.5 387v2M943.5 389v1M944.5 390v2M945.5 392v1M946.5 393v2M947.5 395v1M948.5 396v2M949.5 398v1M950.5 399v2M951.5 401v1M952.5 402v2M953.5 404v1M954.5 405v2M955.5 407v1M956.5 408v2M957.5 410v1M958.5 410v1M959.5 410v1M960.5 409v1M961.5 409v1M962.5 409v1M963.5 409v1M964.5 408v1M965.5 408v1M966.5 408v1M967.5 408v1M968.5 408v1M969.5 408v1M970.5 409v1M971.5 409v1M972.5 409v1M973.5 409v1M974.5 409v1M975.5 409v1M976.5 409v1M977.5 409v1M978.5 409v1M979.5 409v1M980.5 409v1M981.5 409v1M982.5 409v1M983.5 408v1M984.5 408v1M985.5 408v1M986.5 407v1M987.5 407v1M988.5 406v1M989.5 406v1M990.5 406v1M991.5 405v1M992.5 405v1M993.5 404v1M994.5 404v1M995.5 403v1M996.5 403v1M997.5 402v1M998.5 401v1M999.5 400v1M1000.5 399v1M1001.5 399v1M1002.5 398v1M1003.5 397v1M1004.5 396v1M1005.5 395v1M1006.5 394v1M1007.5 393v1M1008.5 392v1M1009.5 392v1M1010.5 391v1M1011.5 390v1M1012.5 389v1M1013.5 388v1M1014.5 388v1M1015.5 387v1M1016.5 387v1M1017.5 386v1M1018.5 386v1M1019.5 385v1M1020.5 385v1M1021.5 384v1M1022.5 384v1M1023.5 384v1M1024.5 384v1M1025.5 384v1M1026.5 384v1M1027.5 384v1M1028.5 384v1M1029.5 384v1M1030.5 384v1M1031.5 385v1M1032.5 385v1M1033.5 386v1M1034.5 386v1M1035.5 387v1M1036.5 387v1M1037.5 388v1M1038.5 388v1M1039.5 388v1M1040.5 387v1M1041.5 387v1M1042.5 387v1M1043.5 387v1M1044.5 386v1M1045.5 386v1M1046.5 386v1M1047.5 386v1M1048.5 385v1M1049.5 385v1M1050.5 385v1M1051.5 385v1M1052.5 384v1M1053.5 384v1M1054.5 384v1M1055.5 385v1M1056.5 385v1M1057.5 385v1M1058.5 386v1M1059.5 386v1M1060.5 387v1M1061.5 387v1M1062.5 387v1M1063.5 387v1M1064.5 387v1M1065.5 387v1M1066.5 388v1M1067.5 388v1M1068.5 388v1M1069.5 388v1M1070.5 389v2M1071.5 391v1M1072.5 392v2M1073.5 394v1M1074.5 395v2M1075.5 397v1M1076.5 398v2M1077.5 400v1M1078.5 401v1M1079.5 402v2M1080.5 404v1M1081.5 405v1M1082.5 406v1M1083.5 407v2M1084.5 409v1M1085.5 410v1M1086.5 411v1M1087.5 411v1M1088.5 412v1M1089.5 413v1M1090.5 414v1M1091.5 414v1M1092.5 415v1M1093.5 416v1M1094.5 416v1M1095.5 417v1M1096.5 417v1M1097.5 418v1M1098.5 418v1M1099.5 419v1M1100.5 419v1M1101.5 420v1M1102.5 421v1M1103.5 422v1M1104.5 423v1M1105.5 424v1M1106.5 425v1M1107.5 426v1M1108.5 427v1M1109.5 428v1M1110.5 429v1M1111.5 430v1M1112.5 431v1M1113.5 432v2M1114.5 434v1M1115.5 435v1M1116.5 436v1M1117.5 437v1" fill="none" stroke="#ff0000" stroke-width="1" shape-rendering="crispEdges"/>
<path d="M5.5 232v2M6.5 230v2M7.5 227v3M8.5 224v3M9.5 222v2M10.5 219v3M11.5 216v3M12.5 214v2M13.5 211v3M14.5 209v2M15.5 206v3M16.5 204v2M17.5 201v3M18.5 199v2M19.5 196v3M20.5 194v2M21.5 191v3M22.5 189v2M23.5 187v2M24.5 185v2M25.5 183v2M26.5 181v2M27.5 179v2M28.5 177v2M29.5 176v1M30.5 175v1M31.5 174v1M32.5 173v1M33.5 172v1M34.5 171v1M35.5 170v1M36.5 169v1M37.5 168v1M38.5 168v1M39.5 168v1M40.5 168v1M41.5 168v1M42.5 169v1M43.5 169v1M44.5 169v1M45.5 169v1M46.5 169v1M47.5 170v1M48.5 170v1M49.5 171v1M50.5 171v1M51.5 172v1M52.5 172v1M53.5 173v1M54.5 173v1M55.5 173v1M56.5 173v1M57.5 173v1M58.5 174v1M59.5 174v1M60.5 174v1M61.5 174v1M62.5 175v1M63.5 176v2M64.5 178v1M65.5 179v1M66.5 180v1M67.5 181v2M68.5 183v1M69.5 184v2M70.5 186v2M71.5 188v2M72.5 190v2M73.5 192v2M74.5 194v2M75.5 196v2M76.5 198v2M77.5 200v3M78.5 203v4M79.5 207v4M80.5 211v4M81.5 215v4M82.5 219v4M83.5 223v4M84.5 227v4M85.5 231v4M86.5 235v4M87.5 239v3M88.5 242v4M89.5 246v3M90.5 249v4M91.5 253v3M92.5 256v4M93.5 260v2M94.5 262v2M95.5 264v1M96.5 265v2M97.5 267v1M98.5 268v2M99.5 270v1M100.5 271v2M101.5 273v1M102.5 274v2M103.5 276v2M104.5 278v2M105.5 280v1M106.5 281v2M107.5 283v2M108.5 285v2M109.5 287v2M110.5 289v2M111.5 291v3M112.5 294v2M113.5 296v3M114.5 299v2M115.5 301v2M116.5 303v3M117.5 306v2M118.5 308v2M119.5 310v1M120.5 310v1M121.5 311v1M122.5 311v1M123.5 312v1M124.5 312v1M125.5 313v1M126.5 314v1M127.5 314v1M128.5 315v1M129.5 315v1M130.5 316v1M131.5 317v1M132.5 317v1M133.5 318v1M134.5 318v1M135.5 318v1M136.5 319v1M137.5 319v1M138.5 319v1M139.5 319v1M140.5 320v1M141.5 320v1M142.5 320v1M143.5 320v1M144.5 320v1M145.5 320v1M146.5 320v1M147.5 320v1M148.5 320v1M149.5 320v1M150.5 320v1M151.5 319v1M152.5 319v1M153.5 318v1M154.5 318v1M155.5 317v1M156.5 317v1M157.5 316v1M158.5 315v1M159.5 314v1M160.5 313v1M161.5 311v2M162.5 310v1M163.5 309v1M164.5 308v1M165.5 307v1M166.5 305v2M167.5 303v2M168.5 301v2M169.5 300v1M170.5 298v2M171.5 296v2M172.5 294v2M173.5 293v1M174.5 293v1M175.5 292v1M176.5 292v1M177.5 291v1M178.5 291v1M179.5 290v1M180.5 290v1M181.5 289v1M182.5 287v2M183.5 286v1M184.5 284v2M185.5 283v1M186.5 281v2M187.5 280v1M188.5 278v2M189.5 276v2M190.5 274v2M191.5 272v2M192.5 270v2M193.5 268v2M194.5 266v2M195.5 264v2M196.5 262v2M197.5 261v1M198.5 259v2M199.5 258v1M200.5 257v1M201.5 255v2M202.5 254v1M203.5 253v1M204.5 251v2M205.5 250v1M206.5 249v1M207.5 248v1M208.5 247v1M209.5 247v1M210.5 246v1M211.5 245v1M212.5 244v1M213.5 243v1M214.5 243v1M215.5 242v1M216.5 242v1M217.5 241v1M218.5 241v1M219.5 240v1M220.5 240v1M221.5 239v1M222.5 240v1M223.5 241v1M224.5 242v1M225.5 242v1M226.5 243v1M227.5 244v1M228.5 245v1M229.5 246v1M230.5 246v1M231.5 246v1M232.5 247v1M233.5 247v1M234.5 247v1M235.5 247v1M236.5 248v1M237.5 248v1M238.5 249v1M239.5 249v1M240.5 250v1M241.5 251v1M242.5 252v1M243.5 252v1M244.5 253v1M245.5 254v1M246.5 255v2M247.5 257v1M248.5 258v2M249.5 260v1M250.5 261v2M251.5 263v1M252.5 264v2M253.5 266v2M254.5 268v3M255.5 271v2M256.5 273v3M257.5 276v3M258.5 279v3M259.5 282v2M260.5 284v3M261.5 287v4M262.5 291v4M263.5 295v4M264.5 299v4M265.5 303v4M266.5 307v4M267.5 311v4M268.5 315v4M269.5 319v3M270.5 322v2M271.5 324v3M272.5 327v2M273.5 329v3M274.5 332v2M275.5 334v3M276.5 337v2M277.5 339v2M278.5 341v3M279.5 344v2M280.5 346v2M281.5 348v2M282.5 350v2M283.5 352v1M284.5 353v2M285.5 355v1M286.5 356v2M287.5 358v2M288.5 360v1M289.5 361v1M290.5 362v2M291.5 364v1M292.5 365v1M293.5 366v1M294.5 367v2M295.5 369v1M296.5 370v1M297.5 371v1M298.5 371v1M299.5 372v1M300.5 373v1M301.5 374v1M302.5 374v1M303.5 375v1M304.5 376v1M305.5 376v1M306.5 377v1M307.5 377v1M308.5 378v1M309.5 378v1M310.5 378v1M311.5 377v1M312.5 377v1M313.5 377v1M314.5 376v1M315.5 376v1M316.5 375v1M317.5 375v1M318.5 374v1M319.5 372v2M320.5 371v1M321.5 370v1M322.5 369v1M323.5 367v2M324.5 366v1M325.5 365v1M326.5 364v1M327.5 364v1M328.5 363v1M329.5 362v1M330.5 361v1M331.5 361v1M332.5 360v1M333.5 359v1M334.5 358v1M335.5 357v1M336.5 356v1M337.5 355v1M338.5 354v1M339.5 353v1M340.5 352v1M341.5 351v1M342.5 351v1M343.5 351v1M344.5 350v1M345.5 350v1M346.5 350v1M347.5 350v1M348.5 349v1M349.5 349v1M350.5 349v1M351.5 349v1M352.5 350v1M353.5 350v1M354.5 350v1M355.5 350v1M356.5 351v1M357.5 351v1M358.5 351v1M359.5 351v1M360.5 351v1M361.5 351v1M362.5 350v1M363.5 350v1M364.5 350v1M365.5 350v1M366.5 349v1M367.5 348v1M368.5 347v1M369.5 345v2M370.5 344v1M371.5 343v1M372.5 342v1M373.5 341v1M374.5 340v1M375.5 339v1M376.5 338v1M377.5 337v1M378.5 336v1M379.5 335v1M380.5 334v1M381.5 333v1M382.5 332v1M383.5 331v1M384.5 330v1M385.5 330v1M386.5 329v1M387.5 328v1M388.5 327v1M389.5 326v1M390.5 326v1M391.5 326v1M392.5 325v1M393.5 325v1M394.5 325v1M395.5 325v1M396.5 324v1M397.5 324v1M398.5 324v1M399.5 323v1M400.5 323v1M401.5 323v1M402.5 322v1M403.5 322v1M404.5 321v1M405.5 321v1M406.5 321v1M407.5 322v1M408.5 322v1M409.5 323v1M410.5 323v1M411.5 324v1M412.5 324v1M413.5 325v1M414.5 326v2M415.5 328v1M416.5 329v1M417.5 330v2M418.5 332v1M419.5 333v1M420.5 334v2M421.5 336v1M422.5 337v1M423.5 338v2M424.5 340v1M425.5 341v1M426.5 342v1M427.5 343v2M428.5 345v1M429.5 346v1M430.5 347v2M431.5 349v1M432.5 350v1M433.5 351v2M434.5 353v1M435.5 354v1M436.5 355v2M437.5 357v1M438.5 358v2M439.5 360v1M440.5 361v2M441.5 363v1M442.5 364v2M443.5 366v1M444.5 367v2M445.5 369v1M446.5 370v1M447.5 371v1M448.5 372v1M449.5 373v2M450.5 375v1M451.5 376v1M452.5 377v1M453.5 378v1M454.5 378v1M455.5 379v1M456.5 379v1M457.5 380v1M458.5 380v1M459.5 381v1M460.5 381v1M461.5 382v1M462.5 381v1M463.5 381v1M464.5 380v1M465.5 379v1M466.5 378v1M467.5 378v1M468.5 377v1M469.5 376v1M470.5 375v1M471.5 374v1M472.5 373v1M473.5 373v1M474.5 372v1M475.5 371v1M476.5 370v1M477.5 369v1M478.5 368v1M479.5 368v1M480.5 367v1M481.5 367v1M482.5 366v1M483.5 365v1M484.5 365v1M485.5 364v1M486.5 364v1M487.5 364v1M488.5 364v1M489.5 364v1M490.5 364v1M491.5 364v1M492.5 364v1M493.5 364v1M494.5 364v1M495.5 365v1M496.5 365v1M497.5 366v1M498.5 366v1M499.5 367v1M500.5 367v1M501.5 368v1M502.5 368v1M503.5 369v1M504.5 369v1M505.5 370v1M506.5 370v1M507.5 371v1M508.5 371v1M509.5 372v1M510.5 372v1M511.5 372v1M512.5 373v1M513.5 373v1M514.5 373v1M515.5 373v1M516.5 374v1M517.5 374v1M518.5 375v1M519.5 375v1M520.5 376v1M521.5 377v1M522.5 378v1M523.5 378v1M524.5 379v1M525.5 380v1M526.5 379v1M527.5 378v1M528.5 377v1M529.5 377v1M530.5 376v1M531.5 375v1M532.5 374v1M533.5 373v1M534.5 372v1M535.5 370v2M536.5 369v1M537.5 368v1M538.5 367v1M539.5 365v2M540.5 364v1M541.5 363v1M542.5 361v2M543.5 360v1M544.5 358v2M545.5 357v1M546.5 355v2M547.5 354v1M548.5 352v2M549.5 350v2M550.5 347v3M551.5 343v4M552.5 340v3M553.5 337v3M554.5 335v2M555.5 332v3M556.5 330v2M557.5 328v2M558.5 324v4M559.5 320v4M560.5 315v5M561.5 311v4M562.5 307v4M563.5 304v3M564.5 300v4M565.5 297v3M566.5 294v3M567.5 290v4M568.5 287v3M569.5 283v4M570.5 279v4M571.5 276v3M572.5 272v4M573.5 269v3M574.5 266v3M575.5 263v3M576.5 260v3M577.5 257v3M578.5 254v3M579.5 251v3M580.5 248v3M581.5 246v2M582.5 244v2M583.5 242v2M584.5 240v2M585.5 238v2M586.5 236v2M587.5 234v2M588.5 232v2M589.5 231v1M590.5 230v1M591.5 229v1M592.5 228v1M593.5 228v1M594.5 227v1M595.5 226v1M596.5 225v1M597.5 224v1M598.5 223v1M599.5 222v1M600.5 221v1M601.5 219v2M602.5 218v1M603.5 217v1M604.5 216v1M605.5 215v1M606.5 216v2M607.5 218v1M608.5 219v1M609.5 220v2M610.5 222v1M611.5 223v1M612.5 224v2M613.5 226v2M614.5 228v2M615.5 230v2M616.5 232v3M617.5 235v2M618.5 237v3M619.5 240v2M620.5 242v2M621.5 244v3M622.5 247v2M623.5 249v2M624.5 251v3M625.5 254v2M626.5 256v3M627.5 259v2M628.5 261v2M629.5 263v3M630.5 266v2M631.5 268v3M632.5 271v2M633.5 273v3M634.5 276v2M635.5 278v3M636.5 281v2M637.5 283v3M638.5 286v2M639.5 288v2M640.5 290v2M641.5 292v2M642.5 294v2M643.5 296v2M644.5 298v2M645.5 300v2M646.5 301v1M647.5 301v1M648.5 301v1M649.5 301v1M650.5 301v1M651.5 301v1M652.5 301v1M653.5 301v1M654.5 300v2M655.5 296v4M656.5 294v2M657.5 292v2M658.5 290v2M659.5 288v2M660.5 286v2M661.5 284v2M662.5 280v4M663.5 276v4M664.5 272v4M665.5 268v4M666.5 264v4M667.5 260v4M668.5 256v4M669.5 253v3M670.5 249v4M671.5 245v4M672.5 242v3M673.5 238v4M674.5 235v3M675.5 231v4M676.5 227v4M677.5 224v3M678.5 221v3M679.5 218v3M680.5 215v3M681.5 211v4M682.5 208v3M683.5 205v3M684.5 202v3M685.5 199v3M686.5 195v4M687.5 191v4M688.5 187v4M689.5 184v3M690.5 180v4M691.5 176v4M692.5 172v4M693.5 169v3M694.5 166v3M695.5 164v2M696.5 161v3M697.5 158v3M698.5 155v3M699.5 153v2M700.5 150v3M701.5 148v2M702.5 146v2M703.5 144v2M704.5 142v2M705.5 140v2M706.5 138v2M707.5 136v2M708.5 134v2M709.5 133v1M710.5 133v1M711.5 133v1M712.5 133v1M713.5 133v1M714.5 134v1M715.5 134v1M716.5 134v1M717.5 134v1M718.5 135v2M719.5 137v2M720.5 139v2M721.5 141v2M722.5 143v2M723.5 145v2M724.5 147v2M725.5 149v2M726.5 151v2M727.5 153v2M728.5 155v3M729.5 158v2M730.5 160v3M731.5 163v2M732.5 165v2M733.5 167v2M734.5 169v2M735.5 171v2M736.5 173v2M737.5 175v2M738.5 177v2M739.5 179v2M740.5 181v2M741.5 183v1M742.5 184v2M743.5 186v2M744.5 188v2M745.5 190v1M746.5 191v2M747.5 193v2M748.5 195v2M749.5 197v2M750.5 199v3M751.5 202v3M752.5 205v3M753.5 208v3M754.5 211v3M755.5 214v3M756.5 217v3M757.5 220v3M758.5 223v3M759.5 226v3M760.5 229v4M761.5 233v3M762.5 236v3M763.5 239v3M764.5 242v3M765.5 245v3M766.5 248v4M767.5 252v3M768.5 255v3M769.5 258v3M770.5 261v3M771.5 264v4M772.5 268v3M773.5 271v2M774.5 273v2M775.5 275v2M776.5 277v2M777.5 279v2M778.5 281v2M779.5 283v2M780.5 285v2M781.5 287v1M782.5 288v1M783.5 288v1M784.5 289v1M785.5 290v1M786.5 291v1M787.5 291v1M788.5 292v1M789.5 293v1M790.5 294v1M791.5 294v1M792.5 295v1M793.5 295v1M794.5 296v1M795.5 297v1M796.5 297v1M797.5 298v1M798.5 298v1M799.5 299v1M800.5 299v1M801.5 299v1M802.5 300v1M803.5 300v1M804.5 301v1M805.5 301v1M806.5 300v1M807.5 299v1M808.5 298v1M809.5 298v1M810.5 297v1M811.5 296v1M812.5 295v1M813.5 294v1M814.5 293v1M815.5 293v1M816.5 292v1M817.5 291v1M818.5 290v1M819.5 290v1M820.5 289v1M821.5 288v1M822.5 288v1M823.5 288v1M824.5 288v1M825.5 288v1M826.5 287v1M827.5 287v1M828.5 287v1M829.5 287v1M830.5 287v1M831.5 286v1M832.5 286v1M833.5 285v1M834.5 285v1M835.5 284v1M836.5 284v1M837.5 283v1M838.5 283v1M839.5 283v1M840.5 283v1M841.5 283v1M842.5 283v1M843.5 283v1M844.5 283v1M845.5 283v1M846.5 284v1M847.5 284v1M848.5 285v1M849.5 286v1M850.5 287v1M851.5 287v1M852.5 288v1M853.5 289v1M854.5 290v1M855.5 291v1M856.5 292v1M857.5 292v1M858.5 293v1M859.5 294v1M860.5 295v1M861.5 296v1M862.5 297v2M863.5 299v1M864.5 300v2M865.5 302v1M866.5 303v2M867.5 305v1M868.5 306v2M869.5 308v2M870.5 310v2M871.5 312v2M872.5 314v2M873.5 316v2M874.5 318v2M875.5 320v2M876.5 322v2M877.5 324v2M878.5 326v2M879.5 328v2M880.5 330v2M881.5 332v2M882.5 334v2M883.5 336v2M884.5 338v2M885.5 340v1M886.5 341v2M887.5 343v1M888.5 344v2M889.5 346v1M890.5 347v2M891.5 349v1M892.5 350v2M893.5 352v2M894.5 354v3M895.5 357v2M896.5 359v3M897.5 362v3M898.5 365v3M899.5 368v2M900.5 370v3M901.5 373v3M902.5 376v2M903.5 378v2M904.5 380v2M905.5 382v2M906.5 384v2M907.5 386v2M908.5 388v2M909.5 390v1M910.5 391v2M911.5 393v1M912.5 394v1M913.5 395v2M914.5 397v1M915.5 398v1M916.5 399v2M917.5 401v1M918.5 402v1M919.5 403v2M920.5 405v1M921.5 406v1M922.5 407v1M923.5 408v2M924.5 410v1M925.5 411v1M926.5 412v2M927.5 414v2M928.5 416v1M929.5 417v2M930.5 419v1M931.5 420v2M932.5 422v2M933.5 424v1M934.5 425v2M935.5 427v1M936.5 428v2M937.5 430v1M938.5 431v2M939.5 433v1M940.5 434v2M941.5 436v1M942.5 437v1M943.5 437v1M944.5 438v1M945.5 438v1M946.5 439v1M947.5 440v1M948.5 440v1M949.5 441v1M950.5 441v1M951.5 442v1M952.5 442v1M953.5 442v1M954.5 443v1M955.5 443v1M956.5 444v1M957.5 444v1M958.5 442v2M959.5 440v2M960.5 438v2M961.5 436v2M962.5 433v3M963.5 431v2M964.5 428v3M965.5 426v2M966.5 425v1M967.5 423v2M968.5 422v1M969.5 421v1M970.5 420v1M971.5 418v2M972.5 417v1M973.5 416v1M974.5 415v1M975.5 414v1M976.5 413v1M977.5 412v1M978.5 411v1M979.5 410v1M980.5 409v1M981.5 407v2M982.5 405v2M983.5 403v2M984.5 401v2M985.5 398v3M986.5 396v2M987.5 394v2M988.5 392v2M989.5 389v3M990.5 386v3M991.5 383v3M992.5 380v3M993.5 377v3M994.5 374v3M995.5 371v3M996.5 368v3M997.5 365v3M998.5 363v2M999.5 361v2M1000.5 359v2M1001.5 357v2M1002.5 355v2M1003.5 353v2M1004.5 351v2M1005.5 348v3M1006.5 346v2M1007.5 344v2M1008.5 342v2M1009.5 340v2M1010.5 338v2M1011.5 336v2M1012.5 334v2M1013.5 332v2M1014.5 333v2M1015.5 335v1M1016.5 336v1M1017.5 337v2M1018.5 339v1M1019.5 340v1M1020.5 341v2M1021.5 343v1M1022.5 344v1M1023.5 345v1M1024.5 346v1M1025.5 347v2M1026.5 349v1M1027.5 350v1M1028.5 351v1M1029.5 352v2M1030.5 354v2M1031.5 356v2M1032.5 358v2M1033.5 360v3M1034.5 363v2M1035.5 365v2M1036.5 367v2M1037.5 369v3M1038.5 372v2M1039.5 374v2M1040.5 376v2M1041.5 378v2M1042.5 380v2M1043.5 382v2M1044.5 384v2M1045.5 386v2M1046.5 388v2M1047.5 390v2M1048.5 392v2M1049.5 394v2M1050.5 396v2M1051.5 398v2M1052.5 400v2M1053.5 402v2M1054.5 404v2M1055.5 406v3M1056.5 409v2M1057.5 411v3M1058.5 414v2M1059.5 416v3M1060.5 419v2M1061.5 421v3M1062.5 424v2M1063.5 426v2M1064.5 428v2M1065.5 430v2M1066.5 432v2M1067.5 434v2M1068.5 436v2M1069.5 438v2M1070.5 440v2M1071.5 442v2M1072.5 444v3M1073.5 447v2M1074.5 449v3M1075.5 452v2M1076.5 454v2M1077.5 456v2M1078.5 458v2M1079.5 460v1M1080.5 461v2M1081.5 463v1M1082.5 464v2M1083.5 466v1M1084.5 467v2M1085.5 469v1M1086.5 468v1M1087.5 468v1M1088.5 467v1M1089.5 466v1M1090.5 465v1M1091.5 465v1M1092.5 464v1M1093.5 463v1M1094.5 462v1M1095.5 461v1M1096.5 460v1M1097.5 460v1M1098.5 459v1M1099.5 458v1M1100.5 457v1M1101.5 456v1M1102.5 456v1M1103.5 456v1M1104.5 455v1M1105.5 455v1M1106.5 455v1M1107.5 455v1M1108.5 454v1M1109.5 454v1M1110.5 454v1M1111.5 453v1M1112.5 453v1M1113.5 452v1M1114.5 452v1M1115.5 451v1M1116.5 451v1M1117.5 450v1" fill="none" stroke="#0000d0" stroke-width="1" shape-rendering="crispEdges"/>
<g shape-rendering="crispEdges">
<rect x="5" y="103" width="1417" height="3" fill="#ff0000"/>
<rect x="5" y="240" width="1417" height="3" fill="#ff0000"/>
<rect x="5" y="352" width="1417" height="3" fill="#ff0000"/>
<rect x="5" y="457" width="1415" height="1" fill="#c0c0c0"/>
<rect x="5" y="459" width="1417" height="3" fill="#00ff00"/>
<rect x="5" y="554" width="1417" height="3" fill="#0000ff"/>
<defs><linearGradient id="og" gradientUnits="userSpaceOnUse" x1="0" y1="42" x2="0" y2="106"><stop offset="0" stop-color="#5656ff"/><stop offset="1" stop-color="#0000a8"/></linearGradient><linearGradient id="bg" x1="0" y1="0" x2="0" y2="1"><stop offset="0" stop-color="#efefef"/><stop offset=".48" stop-color="#e2e2e2"/><stop offset=".52" stop-color="#cfcfcf"/><stop offset="1" stop-color="#c6c6c6"/></linearGradient></defs>
<rect x="6" y="40" width="223" height="68" fill="#fff"/>
<g id="oneclick">
<path d="M8 42 H60 V66 H117 V106 H8 Z" fill="url(#og)"/>
<path d="M175 42 H227 V106 H119 V66 H175 Z" fill="url(#og)"/>
<path d="M8.5 105.5 V42.5 H59.5 V66" fill="none" stroke="#1818c0" stroke-opacity=".6"/>
<path d="M175.5 66 V42.5 H226.5 V105.5" fill="none" stroke="#1818c0" stroke-opacity=".6"/>
<rect x="12" y="65" width="44" height="1" fill="#2a2ac4"/><rect x="12" y="66" width="44" height="1" fill="#8a8af2"/>
<rect x="179" y="65" width="44" height="1" fill="#2a2ac4"/><rect x="179" y="66" width="44" height="1" fill="#8a8af2"/>
<rect x="62.5" y="42.5" width="110" height="21" fill="#fff" stroke="#a8a8a8"/>
<rect x="63.5" y="43.5" width="19" height="19" fill="url(#bg)" stroke="#f6f6f6"/><rect x="83" y="43" width="1" height="20" fill="#b4b4b4"/>
<rect x="152.500" y="43.5" width="19" height="19" fill="url(#bg)" stroke="#f6f6f6"/><rect x="151" y="43" width="1" height="20" fill="#b4b4b4"/>
<path d="M70 51 H75.4 L72.7 54.2 Z" fill="#4a64c8"/><path d="M159 54.2 H164.4 L161.7 51 Z" fill="#4a64c8"/>
<text x="124" y="57" style="font-size:12px" textLength="24" lengthAdjust="spacingAndGlyphs">1.00</text>
<text x="19.8" y="58" style="font-size:11.4px;fill:#e8e8ff" textLength="26.4" lengthAdjust="spacingAndGlyphs">SELL</text>
<text x="187.8" y="58" style="font-size:11.4px;fill:#e8e8ff" textLength="24.4" lengthAdjust="spacingAndGlyphs">BUY</text>
<text x="28" y="96.8" style="font-size:12px;font-weight:bold;fill:#fff" textLength="24" lengthAdjust="spacingAndGlyphs">1.11</text>
<text x="55" y="97.1" style="font-size:34.6px;fill:#fff;stroke:url(#og);stroke-width:.5px" textLength="36.4" lengthAdjust="spacingAndGlyphs">02</text>
<text x="95" y="81" style="font-size:12px;font-weight:bold;fill:#fff">1</text>
<text x="138" y="96.8" style="font-size:12px;font-weight:bold;fill:#fff" textLength="24" lengthAdjust="spacingAndGlyphs">1.11</text>
<text x="165" y="97.1" style="font-size:34.6px;fill:#fff;stroke:url(#og);stroke-width:.5px" textLength="36.4" lengthAdjust="spacingAndGlyphs">03</text>
<text x="205" y="81" style="font-size:12px;font-weight:bold;fill:#fff">8</text>
</g>
<rect x="5" y="613" width="1" height="15" fill="#c0c0c0"/>
<rect x="13" y="613" width="1" height="12" fill="#c0c0c0"/>
<rect x="21" y="613" width="1" height="6" fill="#c0c0c0"/>
<rect x="29" y="611" width="1" height="2" fill="#c0c0c0"/>
<rect x="37" y="607" width="1" height="6" fill="#c0c0c0"/>
<rect x="45" y="612" width="1" height="1" fill="#c0c0c0"/>
<rect x="61" y="613" width="1" height="2" fill="#c0c0c0"/>
<rect x="69" y="613" width="1" height="6" fill="#c0c0c0"/>
<rect x="77" y="613" width="1" height="12" fill="#c0c0c0"/>
<rect x="85" y="613" width="1" height="16" fill="#c0c0c0"/>
<rect x="93" y="613" width="1" height="22" fill="#c0c0c0"/>
<rect x="101" y="613" width="1" height="26" fill="#c0c0c0"/>
<rect x="109" y="613" width="1" height="31" fill="#c0c0c0"/>
<rect x="117" y="613" width="1" height="34" fill="#c0c0c0"/>
<rect x="125" y="613" width="1" height="32" fill="#c0c0c0"/>
<rect x="133" y="613" width="1" height="32" fill="#c0c0c0"/>
<rect x="141" y="613" width="1" height="32" fill="#c0c0c0"/>
<rect x="149" y="613" width="1" height="32" fill="#c0c0c0"/>
<rect x="157" y="613" width="1" height="28" fill="#c0c0c0"/>
<rect x="165" y="613" width="1" height="23" fill="#c0c0c0"/>
<rect x="173" y="613" width="1" height="20" fill="#c0c0c0"/>
<rect x="181" y="613" width="1" height="18" fill="#c0c0c0"/>
<rect x="189" y="613" width="1" height="12" fill="#c0c0c0"/>
<rect x="197" y="613" width="1" height="8" fill="#c0c0c0"/>
<rect x="205" y="613" width="1" height="3" fill="#c0c0c0"/>
<rect x="213" y="613" width="1" height="2" fill="#c0c0c0"/>
<rect x="229" y="613" width="1" height="5" fill="#c0c0c0"/>
<rect x="237" y="613" width="1" height="6" fill="#c0c0c0"/>
<rect x="245" y="613" width="1" height="7" fill="#c0c0c0"/>
<rect x="253" y="613" width="1" height="10" fill="#c0c0c0"/>
<rect x="261" y="613" width="1" height="18" fill="#c0c0c0"/>
<rect x="269" y="613" width="1" height="26" fill="#c0c0c0"/>
<rect x="277" y="613" width="1" height="30" fill="#c0c0c0"/>
<rect x="285" y="613" width="1" height="34" fill="#c0c0c0"/>
<rect x="293" y="613" width="1" height="32" fill="#c0c0c0"/>
<rect x="301" y="613" width="1" height="29" fill="#c0c0c0"/>
<rect x="309" y="613" width="1" height="27" fill="#c0c0c0"/>
<rect x="317" y="613" width="1" height="26" fill="#c0c0c0"/>
<rect x="325" y="613" width="1" height="26" fill="#c0c0c0"/>
<rect x="333" y="613" width="1" height="23" fill="#c0c0c0"/>
<rect x="341" y="613" width="1" height="22" fill="#c0c0c0"/>
<rect x="349" y="613" width="1" height="21" fill="#c0c0c0"/>
<rect x="357" y="613" width="1" height="20" fill="#c0c0c0"/>
<rect x="365" y="613" width="1" height="16" fill="#c0c0c0"/>
<rect x="373" y="613" width="1" height="12" fill="#c0c0c0"/>
<rect x="381" y="613" width="1" height="8" fill="#c0c0c0"/>
<rect x="389" y="613" width="1" height="6" fill="#c0c0c0"/>
<rect x="397" y="613" width="1" height="6" fill="#c0c0c0"/>
<rect x="405" y="613" width="1" height="6" fill="#c0c0c0"/>
<rect x="413" y="613" width="1" height="10" fill="#c0c0c0"/>
<rect x="421" y="613" width="1" height="12" fill="#c0c0c0"/>
<rect x="429" y="613" width="1" height="14" fill="#c0c0c0"/>
<rect x="437" y="613" width="1" height="16" fill="#c0c0c0"/>
<rect x="445" y="613" width="1" height="16" fill="#c0c0c0"/>
<rect x="453" y="613" width="1" height="18" fill="#c0c0c0"/>
<rect x="461" y="613" width="1" height="16" fill="#c0c0c0"/>
<rect x="469" y="613" width="1" height="12" fill="#c0c0c0"/>
<rect x="477" y="613" width="1" height="10" fill="#c0c0c0"/>
<rect x="485" y="613" width="1" height="8" fill="#c0c0c0"/>
<rect x="493" y="613" width="1" height="10" fill="#c0c0c0"/>
<rect x="501" y="613" width="1" height="13" fill="#c0c0c0"/>
<rect x="509" y="613" width="1" height="16" fill="#c0c0c0"/>
<rect x="517" y="613" width="1" height="14" fill="#c0c0c0"/>
<rect x="525" y="613" width="1" height="12" fill="#c0c0c0"/>
<rect x="533" y="613" width="1" height="6" fill="#c0c0c0"/>
<rect x="549" y="611" width="1" height="2" fill="#c0c0c0"/>
<rect x="557" y="605" width="1" height="8" fill="#c0c0c0"/>
<rect x="565" y="595" width="1" height="18" fill="#c0c0c0"/>
<rect x="573" y="588" width="1" height="25" fill="#c0c0c0"/>
<rect x="581" y="584" width="1" height="29" fill="#c0c0c0"/>
<rect x="589" y="580" width="1" height="33" fill="#c0c0c0"/>
<rect x="597" y="580" width="1" height="33" fill="#c0c0c0"/>
<rect x="605" y="582" width="1" height="31" fill="#c0c0c0"/>
<rect x="613" y="591" width="1" height="22" fill="#c0c0c0"/>
<rect x="621" y="596" width="1" height="17" fill="#c0c0c0"/>
<rect x="629" y="600" width="1" height="13" fill="#c0c0c0"/>
<rect x="637" y="606" width="1" height="7" fill="#c0c0c0"/>
<rect x="645" y="607" width="1" height="6" fill="#c0c0c0"/>
<rect x="653" y="603" width="1" height="10" fill="#c0c0c0"/>
<rect x="661" y="594" width="1" height="19" fill="#c0c0c0"/>
<rect x="669" y="585" width="1" height="28" fill="#c0c0c0"/>
<rect x="677" y="577" width="1" height="36" fill="#c0c0c0"/>
<rect x="685" y="574" width="1" height="39" fill="#c0c0c0"/>
<rect x="693" y="572" width="1" height="41" fill="#c0c0c0"/>
<rect x="701" y="571" width="1" height="42" fill="#c0c0c0"/>
<rect x="709" y="570" width="1" height="43" fill="#c0c0c0"/>
<rect x="717" y="571" width="1" height="42" fill="#c0c0c0"/>
<rect x="725" y="580" width="1" height="34" fill="#c0c0c0"/>
<rect x="733" y="585" width="1" height="28" fill="#c0c0c0"/>
<rect x="741" y="591" width="1" height="22" fill="#c0c0c0"/>
<rect x="749" y="596" width="1" height="17" fill="#c0c0c0"/>
<rect x="757" y="605" width="1" height="8" fill="#c0c0c0"/>
<rect x="765" y="612" width="1" height="1" fill="#c0c0c0"/>
<rect x="773" y="613" width="1" height="4" fill="#c0c0c0"/>
<rect x="781" y="613" width="1" height="11" fill="#c0c0c0"/>
<rect x="789" y="613" width="1" height="11" fill="#c0c0c0"/>
<rect x="797" y="613" width="1" height="11" fill="#c0c0c0"/>
<rect x="805" y="613" width="1" height="10" fill="#c0c0c0"/>
<rect x="813" y="613" width="1" height="8" fill="#c0c0c0"/>
<rect x="821" y="613" width="1" height="6" fill="#c0c0c0"/>
<rect x="829" y="613" width="1" height="12" fill="#c0c0c0"/>
<rect x="837" y="613" width="1" height="13" fill="#c0c0c0"/>
<rect x="845" y="613" width="1" height="11" fill="#c0c0c0"/>
<rect x="853" y="613" width="1" height="12" fill="#c0c0c0"/>
<rect x="861" y="613" width="1" height="15" fill="#c0c0c0"/>
<rect x="869" y="613" width="1" height="18" fill="#c0c0c0"/>
<rect x="877" y="613" width="1" height="23" fill="#c0c0c0"/>
<rect x="885" y="613" width="1" height="30" fill="#c0c0c0"/>
<rect x="893" y="613" width="1" height="32" fill="#c0c0c0"/>
<rect x="901" y="613" width="1" height="36" fill="#c0c0c0"/>
<rect x="909" y="613" width="1" height="40" fill="#c0c0c0"/>
<rect x="917" y="613" width="1" height="40" fill="#c0c0c0"/>
<rect x="925" y="613" width="1" height="38" fill="#c0c0c0"/>
<rect x="933" y="613" width="1" height="43" fill="#c0c0c0"/>
<rect x="941" y="613" width="1" height="48" fill="#c0c0c0"/>
<rect x="949" y="613" width="1" height="46" fill="#c0c0c0"/>
<rect x="957" y="613" width="1" height="46" fill="#c0c0c0"/>
<rect x="965" y="613" width="1" height="34" fill="#c0c0c0"/>
<rect x="973" y="613" width="1" height="26" fill="#c0c0c0"/>
<rect x="981" y="613" width="1" height="21" fill="#c0c0c0"/>
<rect x="989" y="613" width="1" height="18" fill="#c0c0c0"/>
<rect x="997" y="613" width="1" height="12" fill="#c0c0c0"/>
<rect x="1005" y="613" width="1" height="8" fill="#c0c0c0"/>
<rect x="1013" y="613" width="1" height="6" fill="#c0c0c0"/>
<rect x="1021" y="613" width="1" height="6" fill="#c0c0c0"/>
<rect x="1029" y="613" width="1" height="8" fill="#c0c0c0"/>
<rect x="1037" y="613" width="1" height="14" fill="#c0c0c0"/>
<rect x="1045" y="613" width="1" height="18" fill="#c0c0c0"/>
<rect x="1053" y="613" width="1" height="24" fill="#c0c0c0"/>
<rect x="1061" y="613" width="1" height="28" fill="#c0c0c0"/>
<rect x="1069" y="613" width="1" height="29" fill="#c0c0c0"/>
<rect x="1077" y="613" width="1" height="30" fill="#c0c0c0"/>
<rect x="1085" y="613" width="1" height="32" fill="#c0c0c0"/>
<rect x="1093" y="613" width="1" height="26" fill="#c0c0c0"/>
<rect x="1101" y="613" width="1" height="24" fill="#c0c0c0"/>
<rect x="1109" y="613" width="1" height="24" fill="#c0c0c0"/>
<rect x="1117" y="613" width="1" height="23" fill="#c0c0c0"/>
</g>
<path d="M5.5 639v1M6.5 639v1M7.5 639v1M11.5 638v1M12.5 637v1M13.5 637v1M17.5 636v1M18.5 635v1M19.5 635v1M23.5 633v1M24.5 633v1M25.5 632v1M29.5 630v1M30.5 630v1M31.5 629v1M35.5 628v1M36.5 627v1M37.5 627v1M41.5 626v1M42.5 625v1M43.5 625v1M47.5 623v1M48.5 623v1M49.5 622v1M53.5 620v1M54.5 620v1M55.5 620v1M59.5 619v1M60.5 618v1M61.5 618v1M65.5 618v1M66.5 618v1M67.5 618v1M71.5 618v1M72.5 618v1M73.5 618v1M77.5 617v1M78.5 617v1M79.5 617v1M83.5 618v1M84.5 618v1M85.5 618v1M89.5 618v1M90.5 619v1M91.5 619v1M95.5 620v1M96.5 620v1M97.5 620v1M101.5 622v1M102.5 622v1M103.5 623v1M107.5 625v1M108.5 625v1M109.5 626v1M113.5 628v1M114.5 628v1M115.5 629v1M119.5 631v1M120.5 631v1M121.5 631v1M125.5 633v1M126.5 633v1M127.5 634v1M131.5 636v1M132.5 636v1M133.5 637v1M137.5 638v1M138.5 639v1M139.5 639v1M143.5 640v1M144.5 641v1M145.5 641v1M149.5 642v1M150.5 642v1M151.5 642v1M155.5 643v1M156.5 643v1M157.5 643v1M161.5 643v1M162.5 643v1M163.5 643v1M167.5 643v1M168.5 643v1M169.5 643v1M173.5 643v1M174.5 643v1M175.5 643v1M179.5 642v1M180.5 641v1M181.5 641v1M185.5 640v1M186.5 640v1M187.5 640v1M191.5 638v1M192.5 638v1M193.5 638v1M197.5 636v1M198.5 636v1M199.5 635v1M203.5 634v1M204.5 633v1M205.5 633v1M209.5 632v1M210.5 631v1M211.5 631v1M215.5 629v1M216.5 629v1M217.5 629v1M221.5 627v1M222.5 627v1M223.5 626v1M227.5 625v1M228.5 624v1M229.5 624v1M233.5 623v1M234.5 622v1M235.5 622v1M239.5 621v1M240.5 621v1M241.5 621v1M245.5 620v1M246.5 620v1M247.5 620v1M251.5 620v1M252.5 620v1M253.5 620v1M257.5 620v1M258.5 620v1M259.5 620v1M263.5 620v1M264.5 621v1M265.5 621v1M269.5 622v1M270.5 622v1M271.5 623v1M275.5 625v1M276.5 625v1M277.5 626v1M281.5 627v1M282.5 628v1M283.5 628v1M287.5 630v1M288.5 630v1M289.5 630v1M293.5 632v1M294.5 632v1M295.5 632v1M299.5 633v1M300.5 634v1M301.5 634v1M305.5 636v1M306.5 636v1M307.5 637v1M311.5 638v1M312.5 639v1M313.5 639v1M317.5 640v1M318.5 640v1M319.5 640v1M323.5 641v1M324.5 641v1M325.5 641v1M329.5 641v1M330.5 642v1M331.5 642v1M335.5 642v1M336.5 642v1M337.5 642v1M341.5 642v1M342.5 642v1M343.5 642v1M347.5 641v1M348.5 641v1M349.5 641v1M353.5 640v1M354.5 640v1M355.5 640v1M359.5 639v1M360.5 639v1M361.5 639v1M365.5 638v1M366.5 638v1M367.5 638v1M371.5 637v1M372.5 636v1M373.5 636v1M377.5 635v1M378.5 635v1M379.5 635v1M383.5 633v1M384.5 633v1M385.5 633v1M389.5 631v1M390.5 631v1M391.5 631v1M395.5 630v1M396.5 629v1M397.5 629v1M401.5 628v1M402.5 628v1M403.5 628v1M407.5 627v1M408.5 627v1M409.5 627v1M413.5 626v1M414.5 626v1M415.5 626v1M419.5 625v1M420.5 624v1M421.5 624v1M425.5 624v1M426.5 624v1M427.5 624v1M431.5 624v1M432.5 624v1M433.5 624v1M437.5 624v1M438.5 624v1M439.5 624v1M443.5 624v1M444.5 624v1M445.5 624v1M449.5 625v1M450.5 625v1M451.5 625v1M455.5 626v1M456.5 626v1M457.5 626v1M461.5 626v1M462.5 626v1M463.5 626v1M467.5 627v1M468.5 628v1M469.5 628v1M473.5 628v1M474.5 628v1M475.5 628v1M479.5 628v1M480.5 628v1M481.5 628v1M485.5 628v1M486.5 628v1M487.5 628v1M491.5 628v1M492.5 628v1M493.5 628v1M497.5 628v1M498.5 628v1M499.5 628v1M503.5 628v1M504.5 628v1M505.5 628v1M509.5 628v1M510.5 628v1M511.5 628v1M515.5 628v1M516.5 628v1M517.5 628v1M521.5 627v1M522.5 627v1M523.5 627v1M527.5 626v1M528.5 626v1M529.5 626v1M533.5 626v1M534.5 626v1M535.5 626v1M539.5 625v1M540.5 624v1M541.5 624v1M545.5 623v1M546.5 623v1M547.5 623v1M551.5 622v1M552.5 621v1M553.5 621v1M557.5 620v1M558.5 620v1M559.5 620v1M563.5 619v1M564.5 618v1M565.5 618v1M569.5 616v1M570.5 616v1M571.5 615v1M575.5 613v1M576.5 612v1M577.5 611v1M581.5 608v1M582.5 607v1M583.5 607v1M587.5 604v1M588.5 603v1M589.5 602v1M593.5 600v1M594.5 600v1M595.5 599v1M599.5 597v1M600.5 596v1M601.5 595v1M605.5 592v1M606.5 592v1M607.5 592v1M611.5 591v1M612.5 590v1M613.5 590v1M617.5 590v1M618.5 589v1M619.5 589v1M623.5 589v1M624.5 588v1M625.5 588v1M629.5 587v1M630.5 587v1M631.5 588v1M635.5 589v1M636.5 590v1M637.5 590v1M641.5 590v1M642.5 591v1M643.5 591v1M647.5 591v1M648.5 592v1M649.5 592v1M653.5 593v1M654.5 593v1M655.5 593v1M659.5 594v1M660.5 594v1M661.5 594v1M665.5 595v1M666.5 595v1M667.5 595v1M671.5 596v1M672.5 595v1M673.5 595v1M677.5 594v1M678.5 594v1M679.5 594v1M683.5 593v1M684.5 592v1M685.5 592v1M689.5 591v1M690.5 591v1M691.5 591v1M695.5 589v1M696.5 589v1M697.5 589v1M701.5 587v1M702.5 587v1M703.5 586v1M707.5 584v1M708.5 584v1M709.5 583v1M713.5 582v1M714.5 581v1M715.5 581v1M719.5 579v1M720.5 579v1M721.5 579v1M725.5 577v1M726.5 577v1M727.5 577v1M731.5 576v1M732.5 576v1M733.5 576v1M737.5 576v1M738.5 577v1M739.5 577v1M743.5 577v1M744.5 578v1M745.5 578v1M749.5 579v1M750.5 579v1M751.5 580v1M755.5 581v1M756.5 582v1M757.5 582v1M761.5 584v1M762.5 584v1M763.5 585v1M767.5 587v1M768.5 588v1M769.5 589v1M773.5 592v1M774.5 593v1M775.5 593v1M779.5 596v1M780.5 597v1M781.5 598v1M785.5 600v1M786.5 601v1M787.5 602v1M791.5 604v1M792.5 605v1M793.5 605v1M797.5 608v1M798.5 608v1M799.5 609v1M803.5 611v1M804.5 611v1M805.5 612v1M809.5 614v1M810.5 614v1M811.5 615v1M815.5 617v1M816.5 617v1M817.5 617v1M821.5 619v1M822.5 619v1M823.5 620v1M827.5 621v1M828.5 622v1M829.5 622v1M833.5 622v1M834.5 623v1M835.5 623v1M839.5 623v1M840.5 623v1M841.5 623v1M845.5 624v1M846.5 624v1M847.5 624v1M851.5 624v1M852.5 624v1M853.5 624v1M857.5 625v1M858.5 625v1M859.5 625v1M863.5 626v1M864.5 626v1M865.5 626v1M869.5 627v1M870.5 627v1M871.5 627v1M875.5 628v1M876.5 628v1M877.5 628v1M881.5 629v1M882.5 629v1M883.5 629v1M887.5 630v1M888.5 631v1M889.5 631v1M893.5 632v1M894.5 632v1M895.5 633v1M899.5 635v1M900.5 635v1M901.5 636v1M905.5 637v1M906.5 638v1M907.5 638v1M911.5 639v1M912.5 640v1M913.5 640v1M917.5 641v1M918.5 641v1M919.5 642v1M923.5 643v1M924.5 644v1M925.5 644v1M929.5 646v1M930.5 646v1M931.5 647v1M935.5 648v1M936.5 649v1M937.5 649v1M941.5 650v1M942.5 650v1M943.5 651v1M947.5 653v1M948.5 653v1M949.5 654v1M953.5 655v1M954.5 655v1M955.5 655v1M959.5 656v1M960.5 656v1M961.5 656v1M965.5 656v1M966.5 656v1M967.5 656v1M971.5 655v1M972.5 654v1M973.5 654v1M977.5 653v1M978.5 653v1M979.5 653v1M983.5 652v1M984.5 651v1M985.5 651v1M989.5 650v1M990.5 650v1M991.5 649v1M995.5 647v1M996.5 647v1M997.5 646v1M1001.5 644v1M1002.5 644v1M1003.5 643v1M1007.5 641v1M1008.5 641v1M1009.5 640v1M1013.5 638v1M1014.5 638v1M1015.5 637v1M1019.5 635v1M1020.5 635v1M1021.5 634v1M1025.5 632v1M1026.5 631v1M1027.5 630v1M1031.5 629v1M1032.5 629v1M1033.5 629v1M1037.5 628v1M1038.5 628v1M1039.5 628v1M1043.5 627v1M1044.5 626v1M1045.5 626v1M1049.5 626v1M1050.5 626v1M1051.5 626v1M1055.5 626v1M1056.5 626v1M1057.5 626v1M1061.5 627v1M1062.5 627v1M1063.5 627v1M1067.5 628v1M1068.5 629v1M1069.5 629v1M1073.5 630v1M1074.5 630v1M1075.5 630v1M1079.5 631v1M1080.5 632v1M1081.5 632v1M1085.5 633v1M1086.5 633v1M1087.5 634v1M1091.5 636v1M1092.5 636v1M1093.5 637v1M1097.5 638v1M1098.5 638v1M1099.5 638v1M1103.5 639v1M1104.5 639v1M1105.5 639v1M1109.5 639v1M1110.5 639v1M1111.5 639v1M1115.5 640v1M1116.5 640v1M1117.5 640v1" fill="none" stroke="#ff0000" stroke-width="1" shape-rendering="crispEdges"/>
<g shape-rendering="crispEdges">
<line x1="6" y1="708.5" x2="1420" y2="708.5" stroke="#c0c0c0" stroke-width="1" stroke-dasharray="3 3"/>
<line x1="6" y1="759.5" x2="1420" y2="759.5" stroke="#c0c0c0" stroke-width="1" stroke-dasharray="3 3"/>
</g>
<path d="M5.5 733v1M6.5 733v1M7.5 732v1M8.5 732v1M9.5 732v1M10.5 731v1M11.5 731v1M12.5 730v1M13.5 730v1M14.5 730v1M15.5 730v1M16.5 729v1M17.5 729v1M18.5 729v1M19.5 729v1M20.5 728v1M21.5 728v1M22.5 727v1M23.5 725v2M24.5 724v1M25.5 723v1M26.5 722v1M27.5 721v1M28.5 719v2M29.5 718v1M30.5 717v1M31.5 718v1M32.5 719v2M33.5 721v1M34.5 722v1M35.5 723v2M36.5 725v1M37.5 726v1M38.5 727v2M39.5 729v2M40.5 731v1M41.5 732v2M42.5 734v1M43.5 735v2M44.5 737v2M45.5 739v1M46.5 739v1M47.5 739v1M48.5 739v1M49.5 739v1M50.5 739v1M51.5 739v1M52.5 739v1M53.5 739v1M54.5 739v1M55.5 738v1M56.5 738v1M57.5 738v1M58.5 737v1M59.5 737v1M60.5 736v1M61.5 736v1M62.5 737v1M63.5 737v1M64.5 738v1M65.5 738v1M66.5 739v1M67.5 740v1M68.5 740v1M69.5 741v1M70.5 741v1M71.5 742v1M72.5 742v1M73.5 742v1M74.5 743v1M75.5 743v1M76.5 744v1M77.5 744v1M78.5 744v1M79.5 745v1M80.5 745v1M81.5 745v1M82.5 746v1M83.5 746v1M84.5 747v1M85.5 747v1M86.5 747v1M87.5 747v1M88.5 748v1M89.5 748v1M90.5 748v1M91.5 748v1M92.5 749v1M93.5 749v1M94.5 749v1M95.5 749v1M96.5 748v1M97.5 748v1M98.5 748v1M99.5 748v1M100.5 747v1M101.5 747v1M102.5 747v1M103.5 748v1M104.5 748v1M105.5 748v1M106.5 749v1M107.5 749v1M108.5 750v1M109.5 750v1M110.5 750v1M111.5 750v1M112.5 750v1M113.5 750v1M114.5 750v1M115.5 750v1M116.5 750v1M117.5 750v1M118.5 749v1M119.5 748v1M120.5 747v1M121.5 745v2M122.5 744v1M123.5 743v1M124.5 742v1M125.5 741v1M126.5 741v1M127.5 742v1M128.5 742v1M129.5 742v1M130.5 743v1M131.5 743v1M132.5 744v1M133.5 744v1M134.5 744v1M135.5 744v1M136.5 745v1M137.5 745v1M138.5 745v1M139.5 745v1M140.5 746v1M141.5 746v1M142.5 746v1M143.5 746v1M144.5 746v1M145.5 746v1M146.5 746v1M147.5 746v1M148.5 746v1M149.5 746v1M150.5 745v1M151.5 743v2M152.5 742v1M153.5 741v1M154.5 740v1M155.5 738v2M156.5 737v1M157.5 736v1M158.5 736v1M159.5 736v1M160.5 735v1M161.5 735v1M162.5 735v1M163.5 735v1M164.5 734v1M165.5 734v1M166.5 734v1M167.5 734v1M168.5 733v1M169.5 733v1M170.5 733v1M171.5 733v1M172.5 732v1M173.5 732v1M174.5 732v1M175.5 733v1M176.5 733v1M177.5 734v1M178.5 734v1M179.5 735v1M180.5 735v1M181.5 736v1M182.5 735v1M183.5 734v1M184.5 733v1M185.5 733v1M186.5 732v1M187.5 731v1M188.5 730v1M189.5 729v1M190.5 729v1M191.5 729v1M192.5 729v1M193.5 729v1M194.5 728v1M195.5 728v1M196.5 728v1M197.5 728v1M198.5 728v1M199.5 728v1M200.5 727v1M201.5 727v1M202.5 727v1M203.5 727v1M204.5 726v1M205.5 726v1M206.5 727v1M207.5 727v1M208.5 728v1M209.5 728v1M210.5 729v1M211.5 730v1M212.5 730v1M213.5 731v1M214.5 731v1M215.5 731v1M216.5 731v1M217.5 731v1M218.5 730v1M219.5 730v1M220.5 730v1M221.5 730v1M222.5 731v2M223.5 733v2M224.5 735v1M225.5 736v2M226.5 738v1M227.5 739v2M228.5 741v2M229.5 743v1M230.5 743v1M231.5 742v1M232.5 742v1M233.5 742v1M234.5 741v1M235.5 741v1M236.5 740v1M237.5 740v1M238.5 740v1M239.5 739v1M240.5 739v1M241.5 738v1M242.5 738v1M243.5 737v1M244.5 737v1M245.5 736v1M246.5 737v1M247.5 738v1M248.5 739v1M249.5 739v1M250.5 740v1M251.5 741v1M252.5 742v1M253.5 743v1M254.5 744v2M255.5 746v1M256.5 747v1M257.5 748v2M258.5 750v1M259.5 751v1M260.5 752v2M261.5 754v1M262.5 754v1M263.5 754v1M264.5 755v1M265.5 755v1M266.5 755v1M267.5 755v1M268.5 756v1M269.5 756v1M270.5 755v1M271.5 755v1M272.5 754v1M273.5 754v1M274.5 753v1M275.5 752v1M276.5 752v1M277.5 751v1M278.5 751v1M279.5 751v1M280.5 751v1M281.5 751v1M282.5 752v1M283.5 752v1M284.5 752v1M285.5 752v1M286.5 751v1M287.5 750v1M288.5 749v1M289.5 748v1M290.5 747v1M291.5 746v1M292.5 745v1M293.5 744v1M294.5 743v1M295.5 743v1M296.5 742v1M297.5 741v1M298.5 740v1M299.5 740v1M300.5 739v1M301.5 738v1M302.5 738v1M303.5 738v1M304.5 738v1M305.5 738v1M306.5 739v1M307.5 739v1M308.5 739v1M309.5 739v1M310.5 740v1M311.5 740v1M312.5 741v1M313.5 741v1M314.5 742v1M315.5 743v1M316.5 743v1M317.5 744v1M318.5 744v1M319.5 743v1M320.5 743v1M321.5 742v1M322.5 742v1M323.5 741v1M324.5 741v1M325.5 740v1M326.5 740v1M327.5 740v1M328.5 740v1M329.5 740v1M330.5 741v1M331.5 741v1M332.5 741v1M333.5 741v1M334.5 741v1M335.5 740v1M336.5 740v1M337.5 740v1M338.5 739v1M339.5 739v1M340.5 738v1M341.5 738v1M342.5 738v1M343.5 738v1M344.5 739v1M345.5 739v1M346.5 739v1M347.5 739v1M348.5 740v1M349.5 740v1M350.5 740v1M351.5 740v1M352.5 739v1M353.5 739v1M354.5 739v1M355.5 739v1M356.5 738v1M357.5 738v1M358.5 737v1M359.5 737v1M360.5 736v1M361.5 736v1M362.5 735v1M363.5 734v1M364.5 734v1M365.5 733v1M366.5 733v1M367.5 733v1M368.5 732v1M369.5 732v1M370.5 732v1M371.5 732v1M372.5 731v1M373.5 731v1M374.5 731v1M375.5 731v1M376.5 731v1M377.5 731v1M378.5 730v1M379.5 730v1M380.5 730v1M381.5 730v1M382.5 730v1M383.5 730v1M384.5 730v1M385.5 730v1M386.5 731v1M387.5 731v1M388.5 731v1M389.5 731v1M390.5 732v1M391.5 733v1M392.5 734v1M393.5 734v1M394.5 735v1M395.5 736v1M396.5 737v1M397.5 738v1M398.5 738v1M399.5 738v1M400.5 737v1M401.5 737v1M402.5 737v1M403.5 737v1M404.5 736v1M405.5 736v1M406.5 737v1M407.5 738v1M408.5 739v1M409.5 740v1M410.5 741v1M411.5 742v1M412.5 743v1M413.5 744v1M414.5 744v1M415.5 745v1M416.5 745v1M417.5 745v1M418.5 746v1M419.5 746v1M420.5 747v1M421.5 747v1M422.5 747v1M423.5 747v1M424.5 747v1M425.5 747v1M426.5 746v1M427.5 746v1M428.5 746v1M429.5 746v1M430.5 746v1M431.5 746v1M432.5 746v1M433.5 746v1M434.5 746v1M435.5 746v1M436.5 746v1M437.5 746v1M438.5 746v1M439.5 746v1M440.5 746v1M441.5 746v1M442.5 746v1M443.5 746v1M444.5 746v1M445.5 746v1M446.5 746v1M447.5 746v1M448.5 746v1M449.5 746v1M450.5 747v1M451.5 747v1M452.5 747v1M453.5 747v1M454.5 746v1M455.5 745v1M456.5 744v1M457.5 742v2M458.5 741v1M459.5 740v1M460.5 739v1M461.5 738v1M462.5 737v1M463.5 736v1M464.5 735v1M465.5 734v1M466.5 733v1M467.5 732v1M468.5 731v1M469.5 730v1M470.5 730v1M471.5 730v1M472.5 730v1M473.5 730v1M474.5 731v1M475.5 731v1M476.5 731v1M477.5 731v1M478.5 731v1M479.5 732v1M480.5 732v1M481.5 732v1M482.5 733v1M483.5 733v1M484.5 734v1M485.5 734v1M486.5 735v1M487.5 736v1M488.5 737v1M489.5 738v1M490.5 739v1M491.5 740v1M492.5 741v1M493.5 742v1M494.5 743v1M495.5 744v1M496.5 745v1M497.5 745v1M498.5 746v1M499.5 747v1M500.5 748v1M501.5 749v1M502.5 749v1M503.5 749v1M504.5 750v1M505.5 750v1M506.5 750v1M507.5 750v1M508.5 751v1M509.5 751v1M510.5 749v2M511.5 747v2M512.5 746v1M513.5 744v2M514.5 743v1M515.5 741v2M516.5 739v2M517.5 738v1M518.5 738v1M519.5 738v1M520.5 738v1M521.5 738v1M522.5 738v1M523.5 738v1M524.5 738v1M525.5 737v2M526.5 735v2M527.5 733v2M528.5 731v2M529.5 728v3M530.5 726v2M531.5 724v2M532.5 722v2M533.5 720v2M534.5 720v1M535.5 720v1M536.5 720v1M537.5 720v1M538.5 719v1M539.5 719v1M540.5 719v1M541.5 719v1M542.5 720v1M543.5 721v1M544.5 722v1M545.5 722v1M546.5 723v1M547.5 724v1M548.5 725v1M549.5 726v1M550.5 725v1M551.5 724v1M552.5 723v1M553.5 722v1M554.5 721v1M555.5 720v1M556.5 719v1M557.5 718v1M558.5 717v1M559.5 716v1M560.5 715v1M561.5 713v2M562.5 712v1M563.5 711v1M564.5 710v1M565.5 709v1M566.5 710v1M567.5 710v1M568.5 711v1M569.5 711v1M570.5 712v1M571.5 713v1M572.5 713v1M573.5 714v1M574.5 714v1M575.5 714v1M576.5 714v1M577.5 714v1M578.5 714v1M579.5 714v1M580.5 714v1M581.5 714v1M582.5 714v1M583.5 714v1M584.5 714v1M585.5 714v1M586.5 713v1M587.5 713v1M588.5 713v1M589.5 713v1M590.5 714v1M591.5 715v1M592.5 716v1M593.5 717v2M594.5 719v1M595.5 720v1M596.5 721v1M597.5 722v1M598.5 722v1M599.5 723v1M600.5 723v1M601.5 724v1M602.5 724v1M603.5 725v1M604.5 725v1M605.5 726v1M606.5 727v2M607.5 729v2M608.5 731v1M609.5 732v2M610.5 734v1M611.5 735v2M612.5 737v2M613.5 739v1M614.5 739v1M615.5 739v1M616.5 739v1M617.5 739v1M618.5 738v1M619.5 738v1M620.5 738v1M621.5 738v1M622.5 738v1M623.5 738v1M624.5 737v1M625.5 737v1M626.5 737v1M627.5 737v1M628.5 736v1M629.5 736v1M630.5 737v1M631.5 737v1M632.5 738v1M633.5 738v1M634.5 739v1M635.5 740v1M636.5 740v1M637.5 741v1M638.5 740v1M639.5 739v1M640.5 738v1M641.5 736v2M642.5 735v1M643.5 734v1M644.5 733v1M645.5 732v1M646.5 731v1M647.5 730v1M648.5 729v1M649.5 727v2M650.5 726v1M651.5 725v1M652.5 724v1M653.5 723v1M654.5 722v1M655.5 721v1M656.5 720v1M657.5 718v2M658.5 717v1M659.5 716v1M660.5 715v1M661.5 714v1M662.5 714v1M663.5 714v1M664.5 713v1M665.5 713v1M666.5 713v1M667.5 713v1M668.5 712v1M669.5 712v1M670.5 712v1M671.5 712v1M672.5 712v1M673.5 712v1M674.5 711v1M675.5 711v1M676.5 711v1M677.5 711v1M678.5 712v1M679.5 713v1M680.5 714v1M681.5 714v1M682.5 715v1M683.5 716v1M684.5 717v1M685.5 718v1M686.5 718v1M687.5 718v1M688.5 718v1M689.5 718v1M690.5 718v1M691.5 718v1M692.5 718v1M693.5 718v1M694.5 718v1M695.5 718v1M696.5 718v1M697.5 718v1M698.5 718v1M699.5 718v1M700.5 718v1M701.5 718v1M702.5 718v1M703.5 718v1M704.5 717v1M705.5 717v1M706.5 717v1M707.5 717v1M708.5 716v1M709.5 716v1M710.5 717v1M711.5 717v1M712.5 718v1M713.5 718v1M714.5 719v1M715.5 720v1M716.5 720v1M717.5 721v1M718.5 722v2M719.5 724v2M720.5 726v2M721.5 728v2M722.5 730v2M723.5 732v2M724.5 734v2M725.5 736v1M726.5 736v1M727.5 736v1M728.5 736v1M729.5 736v1M730.5 736v1M731.5 736v1M732.5 736v1M733.5 736v1M734.5 736v1M735.5 736v1M736.5 736v1M737.5 736v1M738.5 736v1M739.5 736v1M740.5 736v1M741.5 736v1M742.5 736v1M743.5 736v1M744.5 736v1M745.5 736v1M746.5 736v1M747.5 736v1M748.5 736v1M749.5 736v1M750.5 737v2M751.5 739v1M752.5 740v2M753.5 742v1M754.5 743v2M755.5 745v1M756.5 746v2M757.5 748v1M758.5 748v1M759.5 748v1M760.5 747v1M761.5 747v1M762.5 747v1M763.5 747v1M764.5 746v1M765.5 746v1M766.5 746v1M767.5 746v1M768.5 747v1M769.5 747v1M770.5 747v1M771.5 747v1M772.5 748v1M773.5 748v1M774.5 748v1M775.5 748v1M776.5 749v1M777.5 749v1M778.5 749v1M779.5 749v1M780.5 750v1M781.5 750v1M782.5 748v2M783.5 747v1M784.5 745v2M785.5 744v1M786.5 742v2M787.5 741v1M788.5 739v2M789.5 738v1M790.5 738v1M791.5 738v1M792.5 738v1M793.5 738v1M794.5 738v1M795.5 738v1M796.5 738v1M797.5 738v1M798.5 738v1M799.5 737v1M800.5 737v1M801.5 736v1M802.5 736v1M803.5 735v1M804.5 735v1M805.5 734v1M806.5 734v1M807.5 734v1M808.5 734v1M809.5 734v1M810.5 734v1M811.5 734v1M812.5 734v1M813.5 734v1M814.5 734v1M815.5 734v1M816.5 735v1M817.5 735v1M818.5 735v1M819.5 735v1M820.5 736v1M821.5 736v1M822.5 737v1M823.5 738v2M824.5 740v1M825.5 741v1M826.5 742v1M827.5 743v2M828.5 745v1M829.5 746v1M830.5 746v1M831.5 745v1M832.5 745v1M833.5 744v1M834.5 744v1M835.5 743v1M836.5 743v1M837.5 742v1M838.5 741v1M839.5 740v1M840.5 739v1M841.5 738v1M842.5 737v1M843.5 736v1M844.5 735v1M845.5 734v1M846.5 735v1M847.5 736v1M848.5 737v1M849.5 738v1M850.5 739v1M851.5 740v1M852.5 741v1M853.5 742v1M854.5 742v1M855.5 742v1M856.5 742v1M857.5 742v1M858.5 742v1M859.5 742v1M860.5 742v1M861.5 742v1M862.5 742v1M863.5 743v1M864.5 743v1M865.5 744v1M866.5 744v1M867.5 745v1M868.5 745v1M869.5 746v1M870.5 747v1M871.5 748v1M872.5 749v1M873.5 749v1M874.5 750v1M875.5 751v1M876.5 752v1M877.5 753v1M878.5 753v1M879.5 753v1M880.5 753v1M881.5 753v1M882.5 754v1M883.5 754v1M884.5 754v1M885.5 754v1M886.5 754v1M887.5 754v1M888.5 754v1M889.5 754v1M890.5 753v1M891.5 753v1M892.5 753v1M893.5 753v1M894.5 753v1M895.5 754v1M896.5 754v1M897.5 754v1M898.5 755v1M899.5 755v1M900.5 756v1M901.5 756v1M902.5 756v1M903.5 756v1M904.5 756v1M905.5 756v1M906.5 756v1M907.5 756v1M908.5 756v1M909.5 756v1M910.5 755v1M911.5 755v1M912.5 754v1M913.5 754v1M914.5 753v1M915.5 752v1M916.5 752v1M917.5 751v1M918.5 751v1M919.5 750v1M920.5 750v1M921.5 749v1M922.5 749v1M923.5 748v1M924.5 748v1M925.5 747v1M926.5 748v2M927.5 750v2M928.5 752v1M929.5 753v2M930.5 755v1M931.5 756v2M932.5 758v2M933.5 760v1M934.5 760v1M935.5 760v1M936.5 759v1M937.5 759v1M938.5 759v1M939.5 759v1M940.5 758v1M941.5 758v1M942.5 757v1M943.5 756v1M944.5 755v1M945.5 754v1M946.5 753v1M947.5 752v1M948.5 751v1M949.5 750v1M950.5 750v1M951.5 750v1M952.5 750v1M953.5 750v1M954.5 750v1M955.5 750v1M956.5 750v1M957.5 749v2M958.5 746v3M959.5 742v4M960.5 739v3M961.5 736v3M962.5 733v3M963.5 729v4M964.5 726v3M965.5 724v2M966.5 725v1M967.5 725v1M968.5 726v1M969.5 727v1M970.5 728v1M971.5 728v1M972.5 729v1M973.5 730v1M974.5 730v1M975.5 730v1M976.5 730v1M977.5 730v1M978.5 730v1M979.5 730v1M980.5 730v1M981.5 730v1M982.5 730v1M983.5 731v1M984.5 731v1M985.5 732v1M986.5 732v1M987.5 733v1M988.5 733v1M989.5 734v1M990.5 734v1M991.5 733v1M992.5 733v1M993.5 732v1M994.5 732v1M995.5 731v1M996.5 731v1M997.5 730v1M998.5 730v1M999.5 730v1M1000.5 730v1M1001.5 730v1M1002.5 730v1M1003.5 730v1M1004.5 730v1M1005.5 730v1M1006.5 730v1M1007.5 730v1M1008.5 729v1M1009.5 729v1M1010.5 729v1M1011.5 729v1M1012.5 728v1M1013.5 728v1M1014.5 729v1M1015.5 730v1M1016.5 731v1M1017.5 732v1M1018.5 733v1M1019.5 734v1M1020.5 735v1M1021.5 736v1M1022.5 737v1M1023.5 737v1M1024.5 738v1M1025.5 739v1M1026.5 740v1M1027.5 740v1M1028.5 741v1M1029.5 742v1M1030.5 743v1M1031.5 743v1M1032.5 744v1M1033.5 744v1M1034.5 745v1M1035.5 746v1M1036.5 746v1M1037.5 747v1M1038.5 747v1M1039.5 747v1M1040.5 748v1M1041.5 748v1M1042.5 748v1M1043.5 748v1M1044.5 749v1M1045.5 749v1M1046.5 749v1M1047.5 749v1M1048.5 749v1M1049.5 749v1M1050.5 750v1M1051.5 750v1M1052.5 750v1M1053.5 750v1M1054.5 750v1M1055.5 750v1M1056.5 750v1M1057.5 750v1M1058.5 751v1M1059.5 751v1M1060.5 751v1M1061.5 751v1M1062.5 751v1M1063.5 750v1M1064.5 750v1M1065.5 749v1M1066.5 749v1M1067.5 748v1M1068.5 748v1M1069.5 747v1M1070.5 747v1M1071.5 747v1M1072.5 747v1M1073.5 747v1M1074.5 748v1M1075.5 748v1M1076.5 748v1M1077.5 748v1M1078.5 748v1M1079.5 748v1M1080.5 748v1M1081.5 748v1M1082.5 749v1M1083.5 749v1M1084.5 749v1M1085.5 749v1M1086.5 747v2M1087.5 745v2M1088.5 743v2M1089.5 741v2M1090.5 739v2M1091.5 737v2M1092.5 735v2M1093.5 734v1M1094.5 734v1M1095.5 734v1M1096.5 734v1M1097.5 734v1M1098.5 735v1M1099.5 735v1M1100.5 735v1M1101.5 735v1M1102.5 736v1M1103.5 737v1M1104.5 738v1M1105.5 739v1M1106.5 740v1M1107.5 741v1M1108.5 742v1M1109.5 743v1M1110.5 743v1M1111.5 743v1M1112.5 743v1M1113.5 743v1M1114.5 742v1M1115.5 742v1M1116.5 742v1M1117.5 742v1" fill="none" stroke="#1e90ff" stroke-width="1" shape-rendering="crispEdges"/>
<g shape-rendering="crispEdges">
<rect x="1421" y="30" width="2" height="1" fill="#000"/>
<rect x="1421" y="63" width="2" height="1" fill="#000"/>
<rect x="1421" y="96" width="2" height="1" fill="#000"/>
<rect x="1421" y="129" width="2" height="1" fill="#000"/>
<rect x="1421" y="162" width="2" height="1" fill="#000"/>
<rect x="1421" y="195" width="2" height="1" fill="#000"/>
<rect x="1421" y="228" width="2" height="1" fill="#000"/>
<rect x="1421" y="261" width="2" height="1" fill="#000"/>
<rect x="1421" y="294" width="2" height="1" fill="#000"/>
<rect x="1421" y="327" width="2" height="1" fill="#000"/>
<rect x="1421" y="360" width="2" height="1" fill="#000"/>
<rect x="1421" y="393" width="2" height="1" fill="#000"/>
<rect x="1421" y="426" width="2" height="1" fill="#000"/>
<rect x="1421" y="459" width="2" height="1" fill="#000"/>
<rect x="1421" y="492" width="2" height="1" fill="#000"/>
<rect x="1421" y="525" width="2" height="1" fill="#000"/>
<rect x="1421" y="558" width="2" height="1" fill="#000"/>
</g>
<text x="1426.2" y="33.5" textLength="33" lengthAdjust="spacingAndGlyphs">1.14635</text>
<text x="1426.2" y="66.5" textLength="33" lengthAdjust="spacingAndGlyphs">1.14355</text>
<text x="1426.2" y="99.5" textLength="33" lengthAdjust="spacingAndGlyphs">1.14075</text>
<text x="1426.2" y="132.5" textLength="33" lengthAdjust="spacingAndGlyphs">1.13795</text>
<text x="1426.2" y="165.5" textLength="33" lengthAdjust="spacingAndGlyphs">1.13515</text>
<text x="1426.2" y="198.5" textLength="33" lengthAdjust="spacingAndGlyphs">1.13240</text>
<text x="1426.2" y="231.5" textLength="33" lengthAdjust="spacingAndGlyphs">1.12960</text>
<text x="1426.2" y="264.5" textLength="33" lengthAdjust="spacingAndGlyphs">1.12680</text>
<text x="1426.2" y="297.5" textLength="33" lengthAdjust="spacingAndGlyphs">1.12400</text>
<text x="1426.2" y="330.5" textLength="33" lengthAdjust="spacingAndGlyphs">1.12120</text>
<text x="1426.2" y="363.5" textLength="33" lengthAdjust="spacingAndGlyphs">1.11845</text>
<text x="1426.2" y="396.5" textLength="33" lengthAdjust="spacingAndGlyphs">1.11565</text>
<text x="1426.2" y="429.5" textLength="33" lengthAdjust="spacingAndGlyphs">1.11285</text>
<text x="1426.2" y="462.5" textLength="33" lengthAdjust="spacingAndGlyphs">1.11005</text>
<text x="1426.2" y="495.5" textLength="33" lengthAdjust="spacingAndGlyphs">1.10725</text>
<text x="1426.2" y="528.5" textLength="33" lengthAdjust="spacingAndGlyphs">1.10450</text>
<text x="1426.2" y="561.5" textLength="33" lengthAdjust="spacingAndGlyphs">1.10170</text>
<rect x="1422" y="98" width="41" height="11" fill="#ff0000" shape-rendering="crispEdges"/>
<text x="1426.2" y="107" textLength="33" lengthAdjust="spacingAndGlyphs" style="fill:#fff">1.14009</text>
<rect x="1422" y="235" width="41" height="11" fill="#ff0000" shape-rendering="crispEdges"/>
<text x="1426.2" y="244" textLength="33" lengthAdjust="spacingAndGlyphs" style="fill:#fff">1.12851</text>
<rect x="1422" y="347" width="41" height="11" fill="#ff0000" shape-rendering="crispEdges"/>
<text x="1426.2" y="356" textLength="33" lengthAdjust="spacingAndGlyphs" style="fill:#fff">1.11901</text>
<rect x="1422" y="452" width="41" height="3" fill="#000" shape-rendering="crispEdges"/>
<rect x="1422" y="454" width="41" height="11" fill="#00ff00" shape-rendering="crispEdges"/>
<text x="1426.2" y="463" textLength="33" lengthAdjust="spacingAndGlyphs" style="fill:#fff">1.11000</text>
<rect x="1422" y="549" width="41" height="11" fill="#0000ff" shape-rendering="crispEdges"/>
<text x="1426.2" y="558" textLength="33" lengthAdjust="spacingAndGlyphs" style="fill:#fff">1.10201</text>
<text x="1424" y="574" textLength="38.4" lengthAdjust="spacingAndGlyphs">0.004517</text>
<rect x="1421" y="613" width="2" height="1" fill="#000" shape-rendering="crispEdges"/>
<text x="1424" y="617" textLength="17.9" lengthAdjust="spacingAndGlyphs">0.00</text>
<text x="1424" y="663" textLength="41.4" lengthAdjust="spacingAndGlyphs">-0.004806</text>
<rect x="1421" y="708" width="2" height="1" fill="#000" shape-rendering="crispEdges"/><rect x="1421" y="759" width="2" height="1" fill="#000" shape-rendering="crispEdges"/>
<text x="1424" y="679" textLength="15.4" lengthAdjust="spacingAndGlyphs">100</text>
<text x="1424" y="712" textLength="10.2" lengthAdjust="spacingAndGlyphs">70</text>
<text x="1424" y="763" textLength="10.2" lengthAdjust="spacingAndGlyphs">30</text>
<text x="1424" y="795" textLength="5.1" lengthAdjust="spacingAndGlyphs">0</text>
<path d="M8 33 L11.5 28.5 L15 33 Z" fill="#000"/>
<text x="20" y="34"><tspan textLength="66.5" lengthAdjust="spacingAndGlyphs">EURUSD-,Daily</tspan><tspan x="93" textLength="141" lengthAdjust="spacingAndGlyphs">1.11001 1.11046 1.10997 1.11021</tspan></text>
<text x="9" y="576" textLength="154" lengthAdjust="spacingAndGlyphs">MACD(12,26,9) -0.002126 -0.002411</text>
<text x="9" y="681" textLength="68" lengthAdjust="spacingAndGlyphs">RSI(14) 43.1127</text>
<path d="M1130.5 23 L1140.5 23 L1135.5 28.3 Z" fill="#c0c0c0"/>
<rect x="5" y="799" width="1" height="3" fill="#000" shape-rendering="crispEdges"/>
<text x="4.3" y="811" textLength="51.7" lengthAdjust="spacingAndGlyphs">17 Mar 2019</text>
<rect x="69" y="799" width="1" height="3" fill="#000" shape-rendering="crispEdges"/>
<text x="68.3" y="811" textLength="51.7" lengthAdjust="spacingAndGlyphs">26 Mar 2019</text>
<rect x="133" y="799" width="1" height="3" fill="#000" shape-rendering="crispEdges"/>
<text x="132.3" y="811" textLength="44.5" lengthAdjust="spacingAndGlyphs">4 Apr 2019</text>
<rect x="197" y="799" width="1" height="3" fill="#000" shape-rendering="crispEdges"/>
<text x="196.3" y="811" textLength="49.6" lengthAdjust="spacingAndGlyphs">14 Apr 2019</text>
<rect x="261" y="799" width="1" height="3" fill="#000" shape-rendering="crispEdges"/>
<text x="260.3" y="811" textLength="49.6" lengthAdjust="spacingAndGlyphs">24 Apr 2019</text>
<rect x="325" y="799" width="1" height="3" fill="#000" shape-rendering="crispEdges"/>
<text x="324.3" y="811" textLength="48.1" lengthAdjust="spacingAndGlyphs">3 May 2019</text>
<rect x="389" y="799" width="1" height="3" fill="#000" shape-rendering="crispEdges"/>
<text x="388.3" y="811" textLength="53.2" lengthAdjust="spacingAndGlyphs">13 May 2019</text>
<rect x="453" y="799" width="1" height="3" fill="#000" shape-rendering="crispEdges"/>
<text x="452.3" y="811" textLength="53.2" lengthAdjust="spacingAndGlyphs">22 May 2019</text>
<rect x="517" y="799" width="1" height="3" fill="#000" shape-rendering="crispEdges"/>
<text x="516.3" y="811" textLength="53.2" lengthAdjust="spacingAndGlyphs">31 May 2019</text>
<rect x="581" y="799" width="1" height="3" fill="#000" shape-rendering="crispEdges"/>
<text x="580.3" y="811" textLength="50.6" lengthAdjust="spacingAndGlyphs">10 Jun 2019</text>
<rect x="645" y="799" width="1" height="3" fill="#000" shape-rendering="crispEdges"/>
<text x="644.3" y="811" textLength="50.6" lengthAdjust="spacingAndGlyphs">19 Jun 2019</text>
<rect x="709" y="799" width="1" height="3" fill="#000" shape-rendering="crispEdges"/>
<text x="708.3" y="811" textLength="50.6" lengthAdjust="spacingAndGlyphs">28 Jun 2019</text>
<rect x="773" y="799" width="1" height="3" fill="#000" shape-rendering="crispEdges"/>
<text x="772.3" y="811" textLength="42.5" lengthAdjust="spacingAndGlyphs">8 Jul 2019</text>
<rect x="837" y="799" width="1" height="3" fill="#000" shape-rendering="crispEdges"/>
<text x="836.3" y="811" textLength="47.6" lengthAdjust="spacingAndGlyphs">17 Jul 2019</text>
<rect x="901" y="799" width="1" height="3" fill="#000" shape-rendering="crispEdges"/>
<text x="900.3" y="811" textLength="47.6" lengthAdjust="spacingAndGlyphs">26 Jul 2019</text>
<rect x="965" y="799" width="1" height="3" fill="#000" shape-rendering="crispEdges"/>
<text x="964.3" y="811" textLength="46.6" lengthAdjust="spacingAndGlyphs">5 Aug 2019</text>
<rect x="1029" y="799" width="1" height="3" fill="#000" shape-rendering="crispEdges"/>
<text x="1028.3" y="811" textLength="51.7" lengthAdjust="spacingAndGlyphs">14 Aug 2019</text>
<rect x="1093" y="799" width="1" height="3" fill="#000" shape-rendering="crispEdges"/>
<text x="1092.3" y="811" textLength="51.7" lengthAdjust="spacingAndGlyphs">23 Aug 2019</text>
</svg>
<div id="topbar"><span class="sel"></span><span style="left:7.6px;top:1.7px">H4</span><span style="left:36.6px;top:1.7px">D1</span><span style="left:64.6px;top:1.7px">W1</span><span style="left:90.6px;top:1.7px">MN</span><span class="sep"></span></div>
<div id="leftedge"></div><i></i>
<div id="tabs"><u></u><span class="act">EURUSD-,Daily</span>
<span style="left:124px">AUDUSD-,Daily</span>
<span style="left:233px">USDCHF-,Daily</span>
<span style="left:341px">USDCAD-,Daily</span>
<span style="left:450px">USDCNH-,Daily</span>
<span style="left:561px">EURCHF-,Weekly</span>
<span style="left:682px">XAUUSD-,Weekly</span>
<span style="left:805px">GBPUSD-,H1</span>
<span style="left:901px">UKOil-,H1</span>
<span style="left:980px">USDX-,Weekly</span>
<i style="left:222px"></i>
<i style="left:330px"></i>
<i style="left:439px"></i>
<i style="left:550px"></i>
<i style="left:670px"></i>
<i style="left:794px"></i>
<i style="left:889px"></i>
<i style="left:970px"></i>
<i style="left:1073px"></i>
<svg style="position:absolute;left:1430px;top:4px" width="35" height="14"><path d="M6 6.5 L10 3 L10 10 Z M29 6.5 L25 3 L25 10 Z" fill="#a0a0a0"/></svg>
</div>
</body></html>
